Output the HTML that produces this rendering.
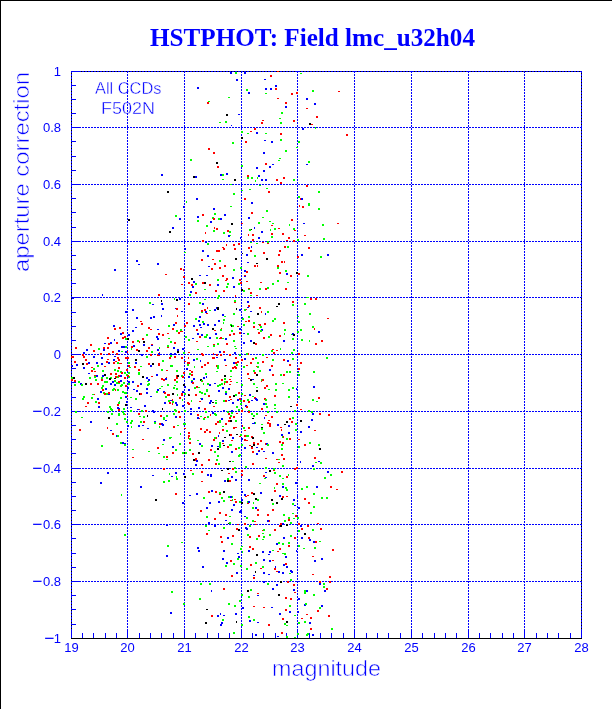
<!DOCTYPE html>
<html><head><meta charset="utf-8"><title>HSTPHOT: Field lmc_u32h04</title>
<style>html,body{margin:0;padding:0;background:#fff;}body{width:612px;height:709px;overflow:hidden;position:relative;}
.bd{position:absolute;left:0;top:0;width:612px;height:709px;border-top:1px solid #000;border-left:1px solid #000;box-sizing:border-box;}
svg{position:absolute;left:0;top:0;display:block;}</style></head>
<body><div class="bd"></div><svg width="612" height="709" viewBox="0 0 612 709" shape-rendering="crispEdges"><rect x="71" y="71" width="510" height="567" fill="none" stroke="#000" stroke-width="1" transform="translate(0.5 0.5)"/><g font-family="Liberation Sans, sans-serif" fill="#0000ff" stroke="#fff" stroke-width="0.4"><text x="95" y="94" font-size="16.4">All CCDs</text><text x="101" y="114" font-size="16.2" textLength="54" lengthAdjust="spacingAndGlyphs">F502N</text></g><path d="M71.5 71V638M127.5 71V638M184.5 71V638M241.5 71V638M297.5 71V638M354.5 71V638M411.5 71V638M468.5 71V638M524.5 71V638M581.5 71V638" stroke="#0000ff" stroke-width="1" stroke-dasharray="2 1" fill="none"/><path d="M71 71.5H582M71 127.5H582M71 184.5H582M71 241.5H582M71 297.5H582M71 354.5H582M71 411.5H582M71 468.5H582M71 524.5H582M71 581.5H582" stroke="#0000ff" stroke-width="1" stroke-dasharray="2 1" stroke-dashoffset="1" fill="none"/><g fill="#0000ff"><rect x="71" y="629" width="1" height="10"/><rect x="82" y="633" width="1" height="6"/><rect x="93" y="633" width="1" height="6"/><rect x="105" y="633" width="1" height="6"/><rect x="116" y="633" width="1" height="6"/><rect x="127" y="629" width="1" height="10"/><rect x="139" y="633" width="1" height="6"/><rect x="150" y="633" width="1" height="6"/><rect x="161" y="633" width="1" height="6"/><rect x="173" y="633" width="1" height="6"/><rect x="184" y="629" width="1" height="10"/><rect x="195" y="633" width="1" height="6"/><rect x="207" y="633" width="1" height="6"/><rect x="218" y="633" width="1" height="6"/><rect x="229" y="633" width="1" height="6"/><rect x="241" y="629" width="1" height="10"/><rect x="252" y="633" width="1" height="6"/><rect x="263" y="633" width="1" height="6"/><rect x="275" y="633" width="1" height="6"/><rect x="286" y="633" width="1" height="6"/><rect x="297" y="629" width="1" height="10"/><rect x="309" y="633" width="1" height="6"/><rect x="320" y="633" width="1" height="6"/><rect x="331" y="633" width="1" height="6"/><rect x="343" y="633" width="1" height="6"/><rect x="354" y="629" width="1" height="10"/><rect x="366" y="633" width="1" height="6"/><rect x="377" y="633" width="1" height="6"/><rect x="388" y="633" width="1" height="6"/><rect x="400" y="633" width="1" height="6"/><rect x="411" y="629" width="1" height="10"/><rect x="422" y="633" width="1" height="6"/><rect x="434" y="633" width="1" height="6"/><rect x="445" y="633" width="1" height="6"/><rect x="456" y="633" width="1" height="6"/><rect x="468" y="629" width="1" height="10"/><rect x="479" y="633" width="1" height="6"/><rect x="490" y="633" width="1" height="6"/><rect x="502" y="633" width="1" height="6"/><rect x="513" y="633" width="1" height="6"/><rect x="524" y="629" width="1" height="10"/><rect x="536" y="633" width="1" height="6"/><rect x="547" y="633" width="1" height="6"/><rect x="558" y="633" width="1" height="6"/><rect x="570" y="633" width="1" height="6"/><rect x="581" y="629" width="1" height="10"/><rect x="71" y="71" width="10" height="1"/><rect x="71" y="85" width="5" height="1"/><rect x="71" y="99" width="5" height="1"/><rect x="71" y="113" width="5" height="1"/><rect x="71" y="127" width="10" height="1"/><rect x="71" y="141" width="5" height="1"/><rect x="71" y="156" width="5" height="1"/><rect x="71" y="170" width="5" height="1"/><rect x="71" y="184" width="10" height="1"/><rect x="71" y="198" width="5" height="1"/><rect x="71" y="212" width="5" height="1"/><rect x="71" y="227" width="5" height="1"/><rect x="71" y="241" width="10" height="1"/><rect x="71" y="255" width="5" height="1"/><rect x="71" y="269" width="5" height="1"/><rect x="71" y="283" width="5" height="1"/><rect x="71" y="297" width="10" height="1"/><rect x="71" y="312" width="5" height="1"/><rect x="71" y="326" width="5" height="1"/><rect x="71" y="340" width="5" height="1"/><rect x="71" y="354" width="10" height="1"/><rect x="71" y="368" width="5" height="1"/><rect x="71" y="382" width="5" height="1"/><rect x="71" y="397" width="5" height="1"/><rect x="71" y="411" width="10" height="1"/><rect x="71" y="425" width="5" height="1"/><rect x="71" y="439" width="5" height="1"/><rect x="71" y="453" width="5" height="1"/><rect x="71" y="468" width="10" height="1"/><rect x="71" y="482" width="5" height="1"/><rect x="71" y="496" width="5" height="1"/><rect x="71" y="510" width="5" height="1"/><rect x="71" y="524" width="10" height="1"/><rect x="71" y="538" width="5" height="1"/><rect x="71" y="553" width="5" height="1"/><rect x="71" y="567" width="5" height="1"/><rect x="71" y="581" width="10" height="1"/><rect x="71" y="595" width="5" height="1"/><rect x="71" y="609" width="5" height="1"/><rect x="71" y="624" width="5" height="1"/><rect x="71" y="638" width="10" height="1"/></g><rect x="71" y="638" width="511" height="1" fill="#000"/><g><rect x="230" y="72" width="2" height="2" fill="#0000ff"/><rect x="235" y="72" width="2" height="2" fill="#00ff00"/><rect x="236" y="79" width="2" height="2" fill="#0000ff"/><rect x="197" y="87" width="2" height="2" fill="#0000ff"/><rect x="228" y="97" width="2" height="1" fill="#00ff00"/><rect x="208" y="101" width="2" height="1" fill="#00ff00"/><rect x="207" y="102" width="2" height="2" fill="#ff0000"/><rect x="226" y="114" width="2" height="2" fill="#000000"/><rect x="238" y="114" width="2" height="1" fill="#0000ff"/><rect x="225" y="121" width="2" height="2" fill="#00ff00"/><rect x="219" y="122" width="2" height="1" fill="#00ff00"/><rect x="244" y="72" width="2" height="2" fill="#0000ff"/><rect x="277" y="71" width="2" height="1" fill="#ff0000"/><rect x="270" y="75" width="2" height="2" fill="#ff0000"/><rect x="264" y="79" width="2" height="1" fill="#0000ff"/><rect x="275" y="85" width="2" height="2" fill="#0000ff"/><rect x="265" y="88" width="2" height="2" fill="#0000ff"/><rect x="270" y="88" width="2" height="2" fill="#0000ff"/><rect x="275" y="88" width="2" height="2" fill="#ff0000"/><rect x="246" y="89" width="2" height="2" fill="#00ff00"/><rect x="248" y="92" width="2" height="2" fill="#0000ff"/><rect x="265" y="93" width="2" height="1" fill="#00ff00"/><rect x="291" y="93" width="2" height="2" fill="#ff0000"/><rect x="296" y="92" width="2" height="2" fill="#ff0000"/><rect x="277" y="98" width="2" height="1" fill="#ff0000"/><rect x="285" y="102" width="2" height="2" fill="#ff0000"/><rect x="285" y="106" width="2" height="2" fill="#0000ff"/><rect x="281" y="112" width="2" height="2" fill="#00ff00"/><rect x="279" y="118" width="2" height="1" fill="#00ff00"/><rect x="262" y="120" width="2" height="1" fill="#ff0000"/><rect x="261" y="122" width="2" height="2" fill="#ff0000"/><rect x="280" y="122" width="2" height="2" fill="#00ff00"/><rect x="293" y="120" width="2" height="2" fill="#ff0000"/><rect x="254" y="128" width="2" height="2" fill="#ff0000"/><rect x="300" y="73" width="2" height="1" fill="#00ff00"/><rect x="312" y="90" width="2" height="2" fill="#00ff00"/><rect x="338" y="91" width="2" height="1" fill="#ff0000"/><rect x="306" y="98" width="2" height="2" fill="#0000ff"/><rect x="314" y="103" width="2" height="2" fill="#0000ff"/><rect x="306" y="108" width="2" height="1" fill="#ff0000"/><rect x="316" y="116" width="2" height="2" fill="#ff0000"/><rect x="309" y="123" width="2" height="2" fill="#000000"/><rect x="311" y="124" width="2" height="1" fill="#ff0000"/><rect x="315" y="127" width="1" height="2" fill="#00ff00"/><rect x="302" y="128" width="2" height="2" fill="#0000ff"/><rect x="161" y="174" width="2" height="2" fill="#0000ff"/><rect x="241" y="131" width="2" height="2" fill="#00ff00"/><rect x="241" y="137" width="2" height="2" fill="#000000"/><rect x="232" y="142" width="2" height="2" fill="#00ff00"/><rect x="208" y="148" width="2" height="2" fill="#ff0000"/><rect x="213" y="152" width="2" height="2" fill="#ff0000"/><rect x="190" y="159" width="2" height="2" fill="#00ff00"/><rect x="216" y="162" width="2" height="2" fill="#000000"/><rect x="217" y="166" width="2" height="2" fill="#ff0000"/><rect x="241" y="165" width="2" height="2" fill="#00ff00"/><rect x="220" y="174" width="2" height="2" fill="#0000ff"/><rect x="222" y="174" width="2" height="2" fill="#00ff00"/><rect x="226" y="173" width="2" height="2" fill="#0000ff"/><rect x="193" y="176" width="2" height="2" fill="#000000"/><rect x="195" y="176" width="2" height="2" fill="#0000ff"/><rect x="222" y="179" width="2" height="1" fill="#00ff00"/><rect x="234" y="179" width="2" height="2" fill="#000000"/><rect x="230" y="184" width="2" height="1" fill="#00ff00"/><rect x="250" y="131" width="2" height="1" fill="#ff0000"/><rect x="247" y="133" width="2" height="1" fill="#00ff00"/><rect x="256" y="132" width="2" height="2" fill="#0000ff"/><rect x="265" y="133" width="2" height="1" fill="#00ff00"/><rect x="280" y="133" width="2" height="2" fill="#ff0000"/><rect x="245" y="141" width="2" height="2" fill="#ff0000"/><rect x="264" y="140" width="2" height="1" fill="#0000ff"/><rect x="271" y="141" width="2" height="2" fill="#0000ff"/><rect x="280" y="139" width="2" height="2" fill="#00ff00"/><rect x="298" y="141" width="2" height="2" fill="#00ff00"/><rect x="296" y="147" width="2" height="1" fill="#00ff00"/><rect x="285" y="150" width="2" height="2" fill="#00ff00"/><rect x="263" y="152" width="2" height="2" fill="#0000ff"/><rect x="279" y="158" width="2" height="1" fill="#00ff00"/><rect x="278" y="160" width="2" height="1" fill="#00ff00"/><rect x="265" y="163" width="2" height="2" fill="#ff0000"/><rect x="272" y="164" width="2" height="1" fill="#0000ff"/><rect x="269" y="166" width="2" height="2" fill="#0000ff"/><rect x="256" y="167" width="2" height="2" fill="#0000ff"/><rect x="263" y="170" width="2" height="2" fill="#0000ff"/><rect x="247" y="175" width="2" height="2" fill="#ff0000"/><rect x="247" y="177" width="2" height="2" fill="#00ff00"/><rect x="258" y="175" width="2" height="2" fill="#0000ff"/><rect x="251" y="177" width="2" height="2" fill="#00ff00"/><rect x="257" y="177" width="1" height="2" fill="#00ff00"/><rect x="255" y="180" width="1" height="2" fill="#00ff00"/><rect x="261" y="179" width="2" height="2" fill="#0000ff"/><rect x="265" y="179" width="2" height="2" fill="#0000ff"/><rect x="276" y="179" width="2" height="2" fill="#ff0000"/><rect x="283" y="177" width="2" height="2" fill="#ff0000"/><rect x="293" y="179" width="2" height="2" fill="#00ff00"/><rect x="280" y="182" width="2" height="2" fill="#ff0000"/><rect x="259" y="185" width="2" height="1" fill="#00ff00"/><rect x="346" y="134" width="2" height="2" fill="#ff0000"/><rect x="308" y="161" width="2" height="2" fill="#00ff00"/><rect x="306" y="164" width="2" height="1" fill="#0000ff"/><rect x="167" y="191" width="2" height="2" fill="#000000"/><rect x="183" y="206" width="1" height="2" fill="#0000ff"/><rect x="175" y="215" width="2" height="2" fill="#00ff00"/><rect x="179" y="218" width="2" height="2" fill="#0000ff"/><rect x="128" y="219" width="2" height="2" fill="#000000"/><rect x="172" y="227" width="2" height="2" fill="#0000ff"/><rect x="169" y="231" width="2" height="2" fill="#000000"/><rect x="241" y="190" width="2" height="1" fill="#00ff00"/><rect x="233" y="193" width="2" height="2" fill="#00ff00"/><rect x="196" y="198" width="2" height="2" fill="#0000ff"/><rect x="186" y="201" width="1" height="2" fill="#00ff00"/><rect x="230" y="206" width="2" height="1" fill="#00ff00"/><rect x="213" y="208" width="2" height="2" fill="#0000ff"/><rect x="202" y="214" width="2" height="2" fill="#ff0000"/><rect x="214" y="213" width="2" height="2" fill="#00ff00"/><rect x="224" y="214" width="2" height="2" fill="#0000ff"/><rect x="197" y="216" width="2" height="2" fill="#0000ff"/><rect x="212" y="217" width="2" height="2" fill="#00ff00"/><rect x="213" y="218" width="2" height="2" fill="#ff0000"/><rect x="218" y="218" width="2" height="2" fill="#00ff00"/><rect x="220" y="218" width="2" height="2" fill="#0000ff"/><rect x="197" y="220" width="2" height="2" fill="#00ff00"/><rect x="210" y="221" width="2" height="2" fill="#0000ff"/><rect x="231" y="223" width="2" height="2" fill="#000000"/><rect x="241" y="223" width="2" height="1" fill="#ff0000"/><rect x="206" y="225" width="2" height="2" fill="#00ff00"/><rect x="214" y="227" width="1" height="2" fill="#ff0000"/><rect x="216" y="228" width="2" height="2" fill="#ff0000"/><rect x="213" y="230" width="2" height="2" fill="#00ff00"/><rect x="227" y="230" width="2" height="2" fill="#ff0000"/><rect x="229" y="231" width="2" height="2" fill="#00ff00"/><rect x="223" y="232" width="2" height="2" fill="#00ff00"/><rect x="205" y="232" width="1" height="2" fill="#ff0000"/><rect x="228" y="235" width="2" height="2" fill="#0000ff"/><rect x="230" y="235" width="1" height="1" fill="#00ff00"/><rect x="240" y="237" width="1" height="2" fill="#0000ff"/><rect x="202" y="240" width="2" height="2" fill="#ff0000"/><rect x="205" y="241" width="2" height="2" fill="#0000ff"/><rect x="249" y="189" width="2" height="1" fill="#00ff00"/><rect x="266" y="188" width="2" height="1" fill="#00ff00"/><rect x="268" y="191" width="2" height="2" fill="#ff0000"/><rect x="244" y="198" width="2" height="2" fill="#ff0000"/><rect x="251" y="202" width="2" height="2" fill="#0000ff"/><rect x="298" y="196" width="2" height="2" fill="#00ff00"/><rect x="299" y="205" width="1" height="2" fill="#ff0000"/><rect x="266" y="210" width="2" height="2" fill="#00ff00"/><rect x="251" y="212" width="2" height="2" fill="#ff0000"/><rect x="248" y="217" width="2" height="2" fill="#0000ff"/><rect x="262" y="217" width="2" height="1" fill="#00ff00"/><rect x="291" y="219" width="2" height="2" fill="#ff0000"/><rect x="258" y="222" width="2" height="2" fill="#00ff00"/><rect x="269" y="221" width="2" height="1" fill="#00ff00"/><rect x="272" y="223" width="2" height="1" fill="#00ff00"/><rect x="271" y="225" width="2" height="1" fill="#ff0000"/><rect x="289" y="224" width="1" height="2" fill="#00ff00"/><rect x="254" y="227" width="1" height="2" fill="#0000ff"/><rect x="249" y="229" width="2" height="2" fill="#00ff00"/><rect x="251" y="229" width="1" height="1" fill="#000000"/><rect x="270" y="229" width="1" height="2" fill="#00ff00"/><rect x="274" y="228" width="2" height="2" fill="#00ff00"/><rect x="278" y="228" width="2" height="1" fill="#ff0000"/><rect x="293" y="228" width="2" height="2" fill="#00ff00"/><rect x="294" y="230" width="2" height="1" fill="#ff0000"/><rect x="261" y="231" width="2" height="2" fill="#0000ff"/><rect x="271" y="233" width="2" height="2" fill="#ff0000"/><rect x="282" y="233" width="2" height="2" fill="#ff0000"/><rect x="248" y="234" width="1" height="2" fill="#ff0000"/><rect x="252" y="234" width="2" height="2" fill="#ff0000"/><rect x="271" y="236" width="2" height="2" fill="#00ff00"/><rect x="258" y="237" width="2" height="2" fill="#0000ff"/><rect x="288" y="237" width="2" height="2" fill="#ff0000"/><rect x="252" y="239" width="2" height="2" fill="#ff0000"/><rect x="286" y="240" width="2" height="1" fill="#ff0000"/><rect x="293" y="240" width="2" height="2" fill="#ff0000"/><rect x="297" y="239" width="2" height="2" fill="#00ff00"/><rect x="250" y="242" width="2" height="1" fill="#00ff00"/><rect x="262" y="242" width="2" height="1" fill="#ff0000"/><rect x="267" y="241" width="2" height="2" fill="#00ff00"/><rect x="306" y="185" width="2" height="2" fill="#ff0000"/><rect x="318" y="191" width="2" height="2" fill="#00ff00"/><rect x="300" y="198" width="1" height="2" fill="#ff0000"/><rect x="301" y="198" width="2" height="2" fill="#0000ff"/><rect x="308" y="203" width="2" height="3" fill="#00ff00"/><rect x="302" y="206" width="2" height="2" fill="#ff0000"/><rect x="318" y="208" width="2" height="2" fill="#00ff00"/><rect x="303" y="223" width="2" height="1" fill="#0000ff"/><rect x="322" y="224" width="2" height="2" fill="#00ff00"/><rect x="337" y="223" width="2" height="1" fill="#ff0000"/><rect x="304" y="235" width="2" height="1" fill="#ff0000"/><rect x="323" y="238" width="2" height="2" fill="#00ff00"/><rect x="114" y="269" width="2" height="2" fill="#0000ff"/><rect x="102" y="294" width="1" height="2" fill="#0000ff"/><rect x="72" y="298" width="2" height="1" fill="#0000ff"/><rect x="136" y="260" width="2" height="2" fill="#0000ff"/><rect x="138" y="264" width="2" height="1" fill="#0000ff"/><rect x="157" y="263" width="2" height="2" fill="#0000ff"/><rect x="180" y="268" width="2" height="2" fill="#ff0000"/><rect x="165" y="274" width="2" height="1" fill="#ff0000"/><rect x="181" y="284" width="2" height="1" fill="#ff0000"/><rect x="158" y="294" width="2" height="2" fill="#ff0000"/><rect x="207" y="243" width="2" height="2" fill="#00ff00"/><rect x="226" y="244" width="1" height="2" fill="#ff0000"/><rect x="233" y="244" width="2" height="2" fill="#ff0000"/><rect x="238" y="243" width="2" height="2" fill="#ff0000"/><rect x="184" y="248" width="2" height="2" fill="#0000ff"/><rect x="184" y="252" width="2" height="1" fill="#00ff00"/><rect x="202" y="250" width="2" height="2" fill="#0000ff"/><rect x="216" y="250" width="4" height="2" fill="#ff0000"/><rect x="222" y="247" width="2" height="1" fill="#ff0000"/><rect x="223" y="248" width="2" height="2" fill="#ff0000"/><rect x="234" y="248" width="2" height="2" fill="#ff0000"/><rect x="207" y="255" width="2" height="2" fill="#0000ff"/><rect x="201" y="259" width="2" height="2" fill="#ff0000"/><rect x="212" y="259" width="2" height="1" fill="#ff0000"/><rect x="219" y="260" width="2" height="2" fill="#00ff00"/><rect x="235" y="258" width="2" height="2" fill="#000000"/><rect x="242" y="253" width="1" height="1" fill="#000000"/><rect x="214" y="263" width="2" height="2" fill="#ff0000"/><rect x="208" y="266" width="2" height="1" fill="#0000ff"/><rect x="224" y="265" width="2" height="2" fill="#ff0000"/><rect x="211" y="268" width="2" height="2" fill="#ff0000"/><rect x="219" y="267" width="2" height="2" fill="#ff0000"/><rect x="233" y="269" width="2" height="2" fill="#00ff00"/><rect x="240" y="267" width="2" height="2" fill="#00ff00"/><rect x="183" y="269" width="1" height="2" fill="#ff0000"/><rect x="183" y="276" width="2" height="2" fill="#ff0000"/><rect x="199" y="275" width="2" height="1" fill="#0000ff"/><rect x="206" y="275" width="2" height="1" fill="#0000ff"/><rect x="222" y="275" width="2" height="2" fill="#ff0000"/><rect x="232" y="277" width="2" height="2" fill="#0000ff"/><rect x="191" y="278" width="2" height="2" fill="#000000"/><rect x="217" y="279" width="2" height="2" fill="#00ff00"/><rect x="226" y="278" width="2" height="2" fill="#ff0000"/><rect x="225" y="280" width="2" height="1" fill="#ff0000"/><rect x="239" y="279" width="2" height="2" fill="#ff0000"/><rect x="240" y="282" width="2" height="2" fill="#ff0000"/><rect x="193" y="281" width="2" height="2" fill="#0000ff"/><rect x="188" y="282" width="2" height="2" fill="#ff0000"/><rect x="202" y="282" width="2" height="2" fill="#ff0000"/><rect x="204" y="282" width="2" height="2" fill="#000000"/><rect x="195" y="283" width="2" height="2" fill="#00ff00"/><rect x="191" y="284" width="2" height="2" fill="#ff0000"/><rect x="192" y="286" width="2" height="2" fill="#0000ff"/><rect x="209" y="284" width="2" height="2" fill="#ff0000"/><rect x="217" y="284" width="2" height="2" fill="#0000ff"/><rect x="227" y="283" width="2" height="2" fill="#00ff00"/><rect x="238" y="283" width="2" height="2" fill="#00ff00"/><rect x="226" y="286" width="2" height="2" fill="#00ff00"/><rect x="233" y="286" width="2" height="2" fill="#0000ff"/><rect x="204" y="289" width="2" height="1" fill="#00ff00"/><rect x="241" y="289" width="2" height="2" fill="#000000"/><rect x="190" y="291" width="2" height="2" fill="#0000ff"/><rect x="195" y="292" width="2" height="2" fill="#ff0000"/><rect x="215" y="290" width="2" height="2" fill="#ff0000"/><rect x="223" y="290" width="2" height="2" fill="#ff0000"/><rect x="189" y="294" width="2" height="2" fill="#00ff00"/><rect x="218" y="295" width="2" height="2" fill="#00ff00"/><rect x="217" y="297" width="2" height="2" fill="#00ff00"/><rect x="235" y="295" width="1" height="2" fill="#ff0000"/><rect x="204" y="299" width="2" height="1" fill="#00ff00"/><rect x="256" y="243" width="2" height="1" fill="#00ff00"/><rect x="267" y="243" width="2" height="1" fill="#ff0000"/><rect x="248" y="247" width="2" height="2" fill="#ff0000"/><rect x="251" y="246" width="1" height="2" fill="#0000ff"/><rect x="284" y="246" width="2" height="2" fill="#ff0000"/><rect x="287" y="246" width="2" height="2" fill="#00ff00"/><rect x="250" y="250" width="2" height="2" fill="#ff0000"/><rect x="246" y="254" width="2" height="2" fill="#0000ff"/><rect x="254" y="255" width="2" height="2" fill="#00ff00"/><rect x="263" y="252" width="2" height="2" fill="#ff0000"/><rect x="279" y="250" width="2" height="2" fill="#ff0000"/><rect x="278" y="254" width="2" height="2" fill="#ff0000"/><rect x="266" y="258" width="2" height="2" fill="#000000"/><rect x="297" y="256" width="2" height="2" fill="#ff0000"/><rect x="247" y="262" width="2" height="1" fill="#0000ff"/><rect x="256" y="263" width="2" height="1" fill="#000000"/><rect x="281" y="261" width="2" height="2" fill="#ff0000"/><rect x="284" y="261" width="1" height="2" fill="#ff0000"/><rect x="254" y="265" width="2" height="2" fill="#ff0000"/><rect x="257" y="265" width="1" height="2" fill="#ff0000"/><rect x="277" y="265" width="2" height="2" fill="#ff0000"/><rect x="277" y="267" width="2" height="2" fill="#00ff00"/><rect x="244" y="270" width="2" height="2" fill="#0000ff"/><rect x="246" y="271" width="2" height="2" fill="#ff0000"/><rect x="279" y="272" width="2" height="2" fill="#ff0000"/><rect x="285" y="270" width="2" height="2" fill="#00ff00"/><rect x="286" y="273" width="2" height="2" fill="#0000ff"/><rect x="296" y="272" width="2" height="2" fill="#000000"/><rect x="298" y="273" width="2" height="2" fill="#ff0000"/><rect x="244" y="275" width="2" height="1" fill="#ff0000"/><rect x="244" y="276" width="2" height="1" fill="#0000ff"/><rect x="290" y="275" width="2" height="2" fill="#ff0000"/><rect x="246" y="281" width="2" height="1" fill="#ff0000"/><rect x="260" y="282" width="2" height="1" fill="#ff0000"/><rect x="277" y="280" width="2" height="2" fill="#00ff00"/><rect x="287" y="282" width="2" height="1" fill="#00ff00"/><rect x="272" y="283" width="2" height="2" fill="#00ff00"/><rect x="243" y="290" width="2" height="2" fill="#00ff00"/><rect x="248" y="288" width="2" height="1" fill="#ff0000"/><rect x="248" y="289" width="2" height="1" fill="#00ff00"/><rect x="259" y="288" width="2" height="2" fill="#00ff00"/><rect x="265" y="288" width="2" height="2" fill="#ff0000"/><rect x="267" y="287" width="2" height="2" fill="#00ff00"/><rect x="285" y="288" width="2" height="2" fill="#ff0000"/><rect x="250" y="292" width="2" height="2" fill="#ff0000"/><rect x="250" y="295" width="2" height="1" fill="#00ff00"/><rect x="256" y="295" width="2" height="1" fill="#ff0000"/><rect x="308" y="247" width="2" height="2" fill="#ff0000"/><rect x="301" y="254" width="2" height="2" fill="#0000ff"/><rect x="320" y="256" width="2" height="2" fill="#00ff00"/><rect x="327" y="254" width="2" height="2" fill="#0000ff"/><rect x="307" y="275" width="2" height="2" fill="#00ff00"/><rect x="306" y="297" width="3" height="1" fill="#00ff00"/><rect x="125" y="311" width="3" height="2" fill="#0000ff"/><rect x="113" y="325" width="2" height="2" fill="#0000ff"/><rect x="114" y="328" width="2" height="2" fill="#ff0000"/><rect x="119" y="327" width="2" height="2" fill="#ff0000"/><rect x="120" y="333" width="2" height="2" fill="#0000ff"/><rect x="122" y="332" width="2" height="2" fill="#ff0000"/><rect x="128" y="334" width="2" height="2" fill="#0000ff"/><rect x="124" y="336" width="2" height="2" fill="#ff0000"/><rect x="122" y="337" width="2" height="2" fill="#ff0000"/><rect x="107" y="337" width="2" height="2" fill="#ff0000"/><rect x="114" y="339" width="1" height="2" fill="#0000ff"/><rect x="125" y="338" width="2" height="2" fill="#00ff00"/><rect x="127" y="338" width="2" height="2" fill="#000000"/><rect x="116" y="342" width="2" height="2" fill="#ff0000"/><rect x="110" y="342" width="2" height="2" fill="#0000ff"/><rect x="108" y="343" width="2" height="2" fill="#ff0000"/><rect x="104" y="343" width="2" height="1" fill="#0000ff"/><rect x="90" y="344" width="2" height="2" fill="#ff0000"/><rect x="75" y="347" width="2" height="2" fill="#ff0000"/><rect x="103" y="347" width="2" height="2" fill="#ff0000"/><rect x="107" y="347" width="2" height="2" fill="#ff0000"/><rect x="103" y="349" width="2" height="2" fill="#0000ff"/><rect x="98" y="348" width="2" height="2" fill="#00ff00"/><rect x="121" y="346" width="2" height="2" fill="#0000ff"/><rect x="123" y="346" width="2" height="2" fill="#0000ff"/><rect x="125" y="346" width="2" height="2" fill="#00ff00"/><rect x="86" y="349" width="2" height="2" fill="#0000ff"/><rect x="93" y="350" width="2" height="2" fill="#ff0000"/><rect x="118" y="350" width="2" height="2" fill="#0000ff"/><rect x="121" y="351" width="2" height="1" fill="#00ff00"/><rect x="125" y="351" width="2" height="2" fill="#0000ff"/><rect x="127" y="351" width="1" height="2" fill="#ff0000"/><rect x="83" y="352" width="2" height="2" fill="#0000ff"/><rect x="82" y="354" width="2" height="2" fill="#ff0000"/><rect x="100" y="353" width="2" height="2" fill="#ff0000"/><rect x="108" y="353" width="2" height="2" fill="#ff0000"/><rect x="112" y="351" width="2" height="2" fill="#ff0000"/><rect x="116" y="353" width="2" height="2" fill="#ff0000"/><rect x="174" y="298" width="1" height="2" fill="#00ff00"/><rect x="176" y="299" width="2" height="2" fill="#000000"/><rect x="179" y="298" width="2" height="2" fill="#0000ff"/><rect x="161" y="300" width="1" height="2" fill="#000000"/><rect x="149" y="302" width="2" height="2" fill="#00ff00"/><rect x="152" y="304" width="2" height="1" fill="#0000ff"/><rect x="161" y="303" width="2" height="2" fill="#0000ff"/><rect x="132" y="309" width="2" height="2" fill="#0000ff"/><rect x="162" y="308" width="2" height="2" fill="#0000ff"/><rect x="175" y="308" width="2" height="1" fill="#0000ff"/><rect x="176" y="308" width="2" height="2" fill="#ff0000"/><rect x="181" y="311" width="2" height="1" fill="#0000ff"/><rect x="136" y="317" width="2" height="2" fill="#0000ff"/><rect x="150" y="317" width="2" height="2" fill="#0000ff"/><rect x="153" y="316" width="2" height="2" fill="#0000ff"/><rect x="161" y="315" width="1" height="2" fill="#0000ff"/><rect x="177" y="315" width="1" height="2" fill="#ff0000"/><rect x="140" y="321" width="2" height="1" fill="#ff0000"/><rect x="141" y="323" width="2" height="2" fill="#ff0000"/><rect x="175" y="322" width="2" height="2" fill="#ff0000"/><rect x="173" y="324" width="2" height="2" fill="#0000ff"/><rect x="168" y="325" width="2" height="2" fill="#00ff00"/><rect x="184" y="325" width="2" height="2" fill="#ff0000"/><rect x="135" y="327" width="2" height="1" fill="#0000ff"/><rect x="148" y="327" width="2" height="2" fill="#ff0000"/><rect x="150" y="329" width="2" height="1" fill="#ff0000"/><rect x="157" y="329" width="2" height="1" fill="#0000ff"/><rect x="172" y="328" width="2" height="2" fill="#ff0000"/><rect x="132" y="330" width="2" height="2" fill="#0000ff"/><rect x="176" y="330" width="2" height="2" fill="#00ff00"/><rect x="180" y="329" width="2" height="2" fill="#00ff00"/><rect x="180" y="331" width="3" height="1" fill="#ff0000"/><rect x="178" y="332" width="2" height="2" fill="#ff0000"/><rect x="158" y="333" width="2" height="2" fill="#ff0000"/><rect x="162" y="334" width="2" height="2" fill="#ff0000"/><rect x="167" y="333" width="2" height="1" fill="#ff0000"/><rect x="146" y="334" width="2" height="2" fill="#00ff00"/><rect x="156" y="336" width="2" height="2" fill="#0000ff"/><rect x="157" y="338" width="2" height="2" fill="#0000ff"/><rect x="168" y="338" width="2" height="1" fill="#00ff00"/><rect x="142" y="338" width="2" height="2" fill="#ff0000"/><rect x="132" y="341" width="2" height="2" fill="#ff0000"/><rect x="137" y="340" width="2" height="2" fill="#00ff00"/><rect x="139" y="341" width="1" height="2" fill="#ff0000"/><rect x="143" y="341" width="2" height="2" fill="#000000"/><rect x="170" y="341" width="2" height="2" fill="#00ff00"/><rect x="174" y="342" width="2" height="2" fill="#ff0000"/><rect x="143" y="344" width="2" height="2" fill="#0000ff"/><rect x="151" y="344" width="2" height="1" fill="#ff0000"/><rect x="151" y="345" width="2" height="1" fill="#0000ff"/><rect x="133" y="345" width="2" height="2" fill="#0000ff"/><rect x="131" y="346" width="2" height="2" fill="#ff0000"/><rect x="131" y="348" width="1" height="2" fill="#00ff00"/><rect x="167" y="345" width="2" height="2" fill="#00ff00"/><rect x="167" y="347" width="2" height="1" fill="#ff0000"/><rect x="173" y="347" width="2" height="2" fill="#0000ff"/><rect x="182" y="348" width="2" height="2" fill="#0000ff"/><rect x="148" y="347" width="2" height="2" fill="#ff0000"/><rect x="159" y="347" width="1" height="2" fill="#00ff00"/><rect x="157" y="349" width="2" height="2" fill="#0000ff"/><rect x="136" y="349" width="2" height="2" fill="#ff0000"/><rect x="138" y="350" width="2" height="2" fill="#000000"/><rect x="146" y="350" width="2" height="2" fill="#ff0000"/><rect x="151" y="351" width="2" height="2" fill="#00ff00"/><rect x="177" y="349" width="2" height="2" fill="#0000ff"/><rect x="177" y="351" width="2" height="2" fill="#000000"/><rect x="183" y="352" width="2" height="2" fill="#00ff00"/><rect x="159" y="352" width="1" height="2" fill="#ff0000"/><rect x="157" y="354" width="3" height="2" fill="#ff0000"/><rect x="158" y="353" width="2" height="2" fill="#0000ff"/><rect x="150" y="354" width="2" height="2" fill="#ff0000"/><rect x="170" y="353" width="2" height="2" fill="#0000ff"/><rect x="174" y="353" width="2" height="2" fill="#0000ff"/><rect x="141" y="354" width="2" height="2" fill="#0000ff"/><rect x="234" y="300" width="2" height="2" fill="#00ff00"/><rect x="234" y="302" width="2" height="1" fill="#ff0000"/><rect x="188" y="303" width="2" height="2" fill="#ff0000"/><rect x="199" y="302" width="2" height="2" fill="#00ff00"/><rect x="202" y="303" width="2" height="2" fill="#0000ff"/><rect x="207" y="307" width="1" height="2" fill="#ff0000"/><rect x="204" y="309" width="2" height="2" fill="#ff0000"/><rect x="201" y="310" width="2" height="2" fill="#ff0000"/><rect x="201" y="312" width="2" height="1" fill="#00ff00"/><rect x="205" y="311" width="2" height="2" fill="#0000ff"/><rect x="206" y="313" width="2" height="1" fill="#ff0000"/><rect x="209" y="310" width="2" height="1" fill="#00ff00"/><rect x="214" y="309" width="2" height="2" fill="#0000ff"/><rect x="216" y="307" width="2" height="2" fill="#0000ff"/><rect x="217" y="307" width="2" height="3" fill="#000000"/><rect x="236" y="308" width="1" height="2" fill="#000000"/><rect x="239" y="309" width="2" height="2" fill="#0000ff"/><rect x="222" y="314" width="2" height="2" fill="#0000ff"/><rect x="224" y="316" width="2" height="1" fill="#00ff00"/><rect x="233" y="313" width="2" height="2" fill="#00ff00"/><rect x="199" y="316" width="2" height="2" fill="#0000ff"/><rect x="195" y="318" width="2" height="2" fill="#00ff00"/><rect x="241" y="317" width="2" height="2" fill="#0000ff"/><rect x="223" y="319" width="2" height="2" fill="#00ff00"/><rect x="223" y="322" width="1" height="2" fill="#00ff00"/><rect x="198" y="320" width="2" height="2" fill="#0000ff"/><rect x="202" y="321" width="2" height="2" fill="#00ff00"/><rect x="218" y="320" width="2" height="2" fill="#0000ff"/><rect x="186" y="322" width="2" height="2" fill="#ff0000"/><rect x="193" y="325" width="2" height="2" fill="#0000ff"/><rect x="199" y="324" width="2" height="2" fill="#0000ff"/><rect x="203" y="323" width="2" height="2" fill="#0000ff"/><rect x="207" y="324" width="2" height="2" fill="#0000ff"/><rect x="214" y="324" width="2" height="2" fill="#0000ff"/><rect x="200" y="327" width="2" height="1" fill="#0000ff"/><rect x="230" y="324" width="2" height="2" fill="#00ff00"/><rect x="231" y="325" width="2" height="2" fill="#000000"/><rect x="232" y="325" width="2" height="2" fill="#00ff00"/><rect x="237" y="326" width="2" height="1" fill="#ff0000"/><rect x="239" y="328" width="2" height="2" fill="#0000ff"/><rect x="212" y="328" width="2" height="2" fill="#000000"/><rect x="214" y="330" width="2" height="1" fill="#ff0000"/><rect x="220" y="329" width="2" height="2" fill="#00ff00"/><rect x="221" y="328" width="1" height="1" fill="#ff0000"/><rect x="231" y="330" width="2" height="2" fill="#00ff00"/><rect x="196" y="329" width="2" height="2" fill="#ff0000"/><rect x="197" y="333" width="2" height="2" fill="#0000ff"/><rect x="201" y="334" width="2" height="2" fill="#0000ff"/><rect x="215" y="333" width="2" height="2" fill="#0000ff"/><rect x="233" y="333" width="2" height="2" fill="#ff0000"/><rect x="229" y="334" width="2" height="2" fill="#ff0000"/><rect x="239" y="332" width="2" height="2" fill="#ff0000"/><rect x="206" y="334" width="2" height="2" fill="#00ff00"/><rect x="204" y="336" width="3" height="2" fill="#00ff00"/><rect x="199" y="336" width="2" height="2" fill="#ff0000"/><rect x="209" y="337" width="2" height="2" fill="#0000ff"/><rect x="216" y="337" width="2" height="2" fill="#00ff00"/><rect x="220" y="337" width="2" height="2" fill="#ff0000"/><rect x="219" y="338" width="2" height="1" fill="#ff0000"/><rect x="222" y="338" width="2" height="1" fill="#00ff00"/><rect x="225" y="338" width="2" height="2" fill="#0000ff"/><rect x="185" y="336" width="2" height="2" fill="#00ff00"/><rect x="192" y="338" width="2" height="1" fill="#0000ff"/><rect x="188" y="339" width="2" height="2" fill="#00ff00"/><rect x="196" y="341" width="2" height="1" fill="#ff0000"/><rect x="233" y="340" width="2" height="2" fill="#00ff00"/><rect x="226" y="343" width="2" height="2" fill="#ff0000"/><rect x="217" y="343" width="2" height="2" fill="#00ff00"/><rect x="213" y="344" width="2" height="1" fill="#ff0000"/><rect x="213" y="345" width="2" height="2" fill="#00ff00"/><rect x="207" y="346" width="2" height="1" fill="#00ff00"/><rect x="234" y="346" width="2" height="1" fill="#00ff00"/><rect x="235" y="348" width="2" height="1" fill="#00ff00"/><rect x="197" y="349" width="2" height="1" fill="#00ff00"/><rect x="188" y="352" width="2" height="1" fill="#ff0000"/><rect x="219" y="351" width="2" height="2" fill="#0000ff"/><rect x="223" y="351" width="2" height="2" fill="#ff0000"/><rect x="234" y="352" width="2" height="2" fill="#0000ff"/><rect x="201" y="353" width="2" height="2" fill="#ff0000"/><rect x="202" y="354" width="2" height="2" fill="#ff0000"/><rect x="213" y="353" width="1" height="2" fill="#ff0000"/><rect x="216" y="354" width="2" height="2" fill="#ff0000"/><rect x="220" y="354" width="2" height="2" fill="#ff0000"/><rect x="229" y="354" width="2" height="2" fill="#ff0000"/><rect x="239" y="354" width="2" height="2" fill="#00ff00"/><rect x="247" y="301" width="2" height="2" fill="#0000ff"/><rect x="248" y="305" width="2" height="2" fill="#ff0000"/><rect x="247" y="307" width="2" height="1" fill="#0000ff"/><rect x="244" y="309" width="2" height="2" fill="#00ff00"/><rect x="246" y="309" width="1" height="1" fill="#ff0000"/><rect x="250" y="311" width="2" height="1" fill="#0000ff"/><rect x="259" y="307" width="2" height="2" fill="#ff0000"/><rect x="261" y="311" width="1" height="2" fill="#ff0000"/><rect x="257" y="313" width="2" height="2" fill="#000000"/><rect x="265" y="313" width="1" height="2" fill="#0000ff"/><rect x="267" y="311" width="2" height="2" fill="#00ff00"/><rect x="278" y="303" width="2" height="2" fill="#000000"/><rect x="276" y="306" width="2" height="1" fill="#000000"/><rect x="292" y="301" width="2" height="2" fill="#ff0000"/><rect x="292" y="304" width="2" height="2" fill="#00ff00"/><rect x="248" y="316" width="2" height="2" fill="#00ff00"/><rect x="242" y="318" width="2" height="2" fill="#00ff00"/><rect x="245" y="321" width="2" height="1" fill="#ff0000"/><rect x="248" y="320" width="2" height="2" fill="#ff0000"/><rect x="253" y="322" width="2" height="2" fill="#00ff00"/><rect x="274" y="318" width="2" height="2" fill="#00ff00"/><rect x="272" y="320" width="2" height="2" fill="#00ff00"/><rect x="283" y="322" width="2" height="2" fill="#ff0000"/><rect x="297" y="316" width="2" height="1" fill="#00ff00"/><rect x="298" y="321" width="2" height="2" fill="#00ff00"/><rect x="243" y="324" width="2" height="2" fill="#00ff00"/><rect x="258" y="324" width="2" height="1" fill="#00ff00"/><rect x="259" y="324" width="2" height="2" fill="#ff0000"/><rect x="253" y="326" width="2" height="2" fill="#ff0000"/><rect x="260" y="326" width="2" height="2" fill="#00ff00"/><rect x="264" y="323" width="2" height="2" fill="#ff0000"/><rect x="257" y="329" width="2" height="1" fill="#00ff00"/><rect x="261" y="329" width="2" height="2" fill="#0000ff"/><rect x="260" y="330" width="2" height="2" fill="#00ff00"/><rect x="284" y="329" width="2" height="2" fill="#00ff00"/><rect x="243" y="333" width="2" height="1" fill="#0000ff"/><rect x="247" y="333" width="2" height="2" fill="#00ff00"/><rect x="258" y="332" width="2" height="2" fill="#ff0000"/><rect x="270" y="334" width="2" height="2" fill="#ff0000"/><rect x="268" y="336" width="2" height="2" fill="#00ff00"/><rect x="263" y="337" width="2" height="2" fill="#ff0000"/><rect x="279" y="335" width="2" height="2" fill="#ff0000"/><rect x="284" y="333" width="1" height="2" fill="#00ff00"/><rect x="297" y="331" width="2" height="2" fill="#00ff00"/><rect x="292" y="333" width="2" height="2" fill="#0000ff"/><rect x="293" y="334" width="2" height="2" fill="#000000"/><rect x="291" y="334" width="1" height="1" fill="#00ff00"/><rect x="292" y="338" width="2" height="2" fill="#00ff00"/><rect x="283" y="340" width="2" height="2" fill="#0000ff"/><rect x="250" y="340" width="2" height="2" fill="#0000ff"/><rect x="243" y="342" width="2" height="2" fill="#0000ff"/><rect x="253" y="342" width="2" height="2" fill="#000000"/><rect x="255" y="343" width="2" height="2" fill="#ff0000"/><rect x="280" y="348" width="1" height="2" fill="#00ff00"/><rect x="272" y="349" width="2" height="1" fill="#ff0000"/><rect x="271" y="350" width="2" height="2" fill="#00ff00"/><rect x="276" y="350" width="2" height="1" fill="#ff0000"/><rect x="273" y="352" width="2" height="2" fill="#ff0000"/><rect x="293" y="349" width="2" height="2" fill="#00ff00"/><rect x="291" y="352" width="2" height="2" fill="#00ff00"/><rect x="246" y="353" width="2" height="2" fill="#00ff00"/><rect x="248" y="353" width="1" height="2" fill="#ff0000"/><rect x="262" y="354" width="2" height="2" fill="#00ff00"/><rect x="298" y="353" width="2" height="2" fill="#ff0000"/><rect x="310" y="298" width="2" height="2" fill="#ff0000"/><rect x="315" y="298" width="2" height="2" fill="#ff0000"/><rect x="304" y="303" width="2" height="2" fill="#00ff00"/><rect x="309" y="313" width="2" height="2" fill="#00ff00"/><rect x="327" y="318" width="2" height="1" fill="#ff0000"/><rect x="312" y="326" width="2" height="2" fill="#00ff00"/><rect x="314" y="328" width="1" height="2" fill="#ff0000"/><rect x="300" y="329" width="2" height="2" fill="#00ff00"/><rect x="318" y="331" width="2" height="2" fill="#0000ff"/><rect x="301" y="339" width="2" height="2" fill="#00ff00"/><rect x="309" y="340" width="1" height="2" fill="#00ff00"/><rect x="321" y="340" width="2" height="2" fill="#ff0000"/><rect x="315" y="343" width="2" height="2" fill="#ff0000"/><rect x="71" y="356" width="3" height="2" fill="#ff0000"/><rect x="83" y="356" width="2" height="2" fill="#ff0000"/><rect x="93" y="356" width="2" height="2" fill="#0000ff"/><rect x="101" y="357" width="2" height="2" fill="#0000ff"/><rect x="114" y="356" width="2" height="1" fill="#0000ff"/><rect x="117" y="357" width="2" height="2" fill="#ff0000"/><rect x="118" y="359" width="2" height="2" fill="#ff0000"/><rect x="125" y="357" width="4" height="2" fill="#ff0000"/><rect x="85" y="359" width="2" height="2" fill="#ff0000"/><rect x="107" y="359" width="2" height="1" fill="#ff0000"/><rect x="113" y="359" width="2" height="2" fill="#0000ff"/><rect x="74" y="361" width="2" height="2" fill="#ff0000"/><rect x="82" y="363" width="2" height="2" fill="#000000"/><rect x="86" y="363" width="2" height="2" fill="#ff0000"/><rect x="88" y="362" width="2" height="2" fill="#0000ff"/><rect x="96" y="362" width="2" height="2" fill="#0000ff"/><rect x="101" y="363" width="2" height="2" fill="#0000ff"/><rect x="106" y="361" width="2" height="2" fill="#ff0000"/><rect x="108" y="362" width="2" height="2" fill="#0000ff"/><rect x="113" y="362" width="2" height="2" fill="#ff0000"/><rect x="115" y="361" width="2" height="1" fill="#ff0000"/><rect x="117" y="362" width="2" height="2" fill="#00ff00"/><rect x="119" y="363" width="3" height="1" fill="#ff0000"/><rect x="128" y="362" width="2" height="2" fill="#00ff00"/><rect x="76" y="364" width="2" height="2" fill="#0000ff"/><rect x="71" y="365" width="2" height="2" fill="#0000ff"/><rect x="128" y="365" width="2" height="2" fill="#ff0000"/><rect x="97" y="365" width="2" height="2" fill="#00ff00"/><rect x="104" y="366" width="2" height="1" fill="#ff0000"/><rect x="83" y="367" width="2" height="2" fill="#0000ff"/><rect x="91" y="367" width="2" height="1" fill="#ff0000"/><rect x="93" y="368" width="2" height="2" fill="#00ff00"/><rect x="91" y="370" width="2" height="2" fill="#ff0000"/><rect x="94" y="371" width="2" height="1" fill="#ff0000"/><rect x="102" y="370" width="2" height="2" fill="#00ff00"/><rect x="114" y="369" width="2" height="2" fill="#00ff00"/><rect x="117" y="370" width="2" height="2" fill="#00ff00"/><rect x="118" y="367" width="2" height="2" fill="#ff0000"/><rect x="126" y="369" width="2" height="2" fill="#ff0000"/><rect x="120" y="371" width="2" height="2" fill="#00ff00"/><rect x="124" y="372" width="2" height="2" fill="#00ff00"/><rect x="128" y="372" width="2" height="2" fill="#00ff00"/><rect x="121" y="372" width="2" height="2" fill="#ff0000"/><rect x="88" y="373" width="2" height="1" fill="#0000ff"/><rect x="110" y="373" width="2" height="2" fill="#ff0000"/><rect x="115" y="373" width="2" height="2" fill="#ff0000"/><rect x="126" y="374" width="2" height="2" fill="#00ff00"/><rect x="104" y="374" width="2" height="2" fill="#000000"/><rect x="102" y="375" width="2" height="2" fill="#0000ff"/><rect x="94" y="375" width="2" height="2" fill="#ff0000"/><rect x="94" y="376" width="2" height="2" fill="#00ff00"/><rect x="96" y="375" width="2" height="2" fill="#0000ff"/><rect x="89" y="377" width="2" height="2" fill="#00ff00"/><rect x="106" y="377" width="2" height="2" fill="#00ff00"/><rect x="110" y="377" width="2" height="2" fill="#00ff00"/><rect x="115" y="376" width="2" height="2" fill="#ff0000"/><rect x="117" y="376" width="2" height="2" fill="#00ff00"/><rect x="118" y="375" width="2" height="2" fill="#ff0000"/><rect x="120" y="375" width="2" height="2" fill="#0000ff"/><rect x="124" y="377" width="2" height="2" fill="#ff0000"/><rect x="128" y="376" width="2" height="2" fill="#00ff00"/><rect x="73" y="377" width="2" height="2" fill="#000000"/><rect x="71" y="377" width="2" height="2" fill="#00ff00"/><rect x="71" y="379" width="2" height="2" fill="#ff0000"/><rect x="74" y="380" width="2" height="2" fill="#ff0000"/><rect x="101" y="377" width="2" height="2" fill="#00ff00"/><rect x="101" y="379" width="2" height="2" fill="#ff0000"/><rect x="95" y="379" width="2" height="2" fill="#00ff00"/><rect x="109" y="378" width="2" height="2" fill="#000000"/><rect x="114" y="378" width="2" height="1" fill="#000000"/><rect x="112" y="381" width="2" height="2" fill="#0000ff"/><rect x="78" y="381" width="2" height="2" fill="#00ff00"/><rect x="80" y="383" width="2" height="2" fill="#0000ff"/><rect x="81" y="384" width="2" height="2" fill="#00ff00"/><rect x="85" y="383" width="2" height="2" fill="#000000"/><rect x="90" y="383" width="2" height="2" fill="#ff0000"/><rect x="97" y="383" width="2" height="2" fill="#ff0000"/><rect x="104" y="381" width="2" height="2" fill="#00ff00"/><rect x="106" y="381" width="2" height="2" fill="#00ff00"/><rect x="110" y="383" width="2" height="2" fill="#0000ff"/><rect x="114" y="380" width="2" height="2" fill="#00ff00"/><rect x="116" y="382" width="2" height="2" fill="#00ff00"/><rect x="114" y="384" width="2" height="2" fill="#0000ff"/><rect x="118" y="382" width="2" height="2" fill="#00ff00"/><rect x="118" y="381" width="2" height="2" fill="#ff0000"/><rect x="120" y="380" width="2" height="2" fill="#0000ff"/><rect x="123" y="382" width="2" height="2" fill="#00ff00"/><rect x="128" y="381" width="2" height="2" fill="#0000ff"/><rect x="128" y="383" width="2" height="2" fill="#00ff00"/><rect x="74" y="384" width="2" height="2" fill="#00ff00"/><rect x="120" y="385" width="2" height="2" fill="#00ff00"/><rect x="121" y="384" width="2" height="2" fill="#00ff00"/><rect x="102" y="385" width="2" height="2" fill="#00ff00"/><rect x="101" y="387" width="2" height="2" fill="#00ff00"/><rect x="105" y="388" width="2" height="2" fill="#0000ff"/><rect x="102" y="389" width="2" height="2" fill="#ff0000"/><rect x="113" y="388" width="2" height="2" fill="#00ff00"/><rect x="112" y="389" width="2" height="2" fill="#00ff00"/><rect x="115" y="389" width="1" height="2" fill="#ff0000"/><rect x="117" y="389" width="2" height="2" fill="#00ff00"/><rect x="125" y="385" width="2" height="2" fill="#ff0000"/><rect x="127" y="387" width="2" height="2" fill="#0000ff"/><rect x="100" y="391" width="2" height="2" fill="#0000ff"/><rect x="103" y="392" width="2" height="2" fill="#00ff00"/><rect x="104" y="393" width="2" height="2" fill="#ff0000"/><rect x="106" y="393" width="2" height="2" fill="#00ff00"/><rect x="108" y="393" width="2" height="2" fill="#0000ff"/><rect x="108" y="392" width="2" height="2" fill="#ff0000"/><rect x="122" y="391" width="2" height="2" fill="#00ff00"/><rect x="124" y="392" width="2" height="2" fill="#00ff00"/><rect x="125" y="392" width="2" height="2" fill="#00ff00"/><rect x="92" y="394" width="2" height="1" fill="#00ff00"/><rect x="94" y="394" width="1" height="1" fill="#ff0000"/><rect x="127" y="395" width="1" height="2" fill="#ff0000"/><rect x="83" y="396" width="2" height="2" fill="#00ff00"/><rect x="82" y="398" width="2" height="2" fill="#00ff00"/><rect x="91" y="397" width="2" height="2" fill="#00ff00"/><rect x="97" y="398" width="2" height="2" fill="#0000ff"/><rect x="120" y="397" width="2" height="2" fill="#00ff00"/><rect x="125" y="396" width="2" height="2" fill="#0000ff"/><rect x="95" y="401" width="2" height="2" fill="#00ff00"/><rect x="87" y="402" width="2" height="2" fill="#ff0000"/><rect x="98" y="402" width="2" height="2" fill="#ff0000"/><rect x="119" y="401" width="1" height="2" fill="#00ff00"/><rect x="118" y="402" width="2" height="2" fill="#00ff00"/><rect x="117" y="404" width="2" height="2" fill="#ff0000"/><rect x="125" y="404" width="2" height="2" fill="#000000"/><rect x="126" y="401" width="1" height="2" fill="#0000ff"/><rect x="85" y="406" width="2" height="1" fill="#ff0000"/><rect x="98" y="406" width="2" height="2" fill="#0000ff"/><rect x="109" y="406" width="2" height="2" fill="#00ff00"/><rect x="110" y="408" width="2" height="2" fill="#00ff00"/><rect x="111" y="409" width="2" height="2" fill="#00ff00"/><rect x="117" y="407" width="2" height="2" fill="#0000ff"/><rect x="118" y="408" width="2" height="2" fill="#0000ff"/><rect x="118" y="409" width="2" height="2" fill="#ff0000"/><rect x="123" y="408" width="2" height="2" fill="#00ff00"/><rect x="75" y="411" width="2" height="2" fill="#00ff00"/><rect x="107" y="411" width="2" height="2" fill="#00ff00"/><rect x="146" y="356" width="2" height="2" fill="#00ff00"/><rect x="170" y="355" width="2" height="2" fill="#00ff00"/><rect x="169" y="357" width="2" height="2" fill="#ff0000"/><rect x="174" y="356" width="2" height="2" fill="#ff0000"/><rect x="181" y="357" width="2" height="2" fill="#ff0000"/><rect x="184" y="361" width="2" height="1" fill="#ff0000"/><rect x="135" y="359" width="2" height="2" fill="#000000"/><rect x="135" y="362" width="2" height="2" fill="#0000ff"/><rect x="129" y="367" width="2" height="1" fill="#00ff00"/><rect x="134" y="366" width="2" height="2" fill="#ff0000"/><rect x="140" y="366" width="2" height="1" fill="#00ff00"/><rect x="148" y="363" width="2" height="2" fill="#ff0000"/><rect x="152" y="363" width="2" height="2" fill="#000000"/><rect x="150" y="365" width="2" height="2" fill="#0000ff"/><rect x="158" y="363" width="2" height="2" fill="#ff0000"/><rect x="158" y="364" width="2" height="2" fill="#ff0000"/><rect x="162" y="360" width="2" height="2" fill="#00ff00"/><rect x="170" y="365" width="3" height="2" fill="#00ff00"/><rect x="138" y="369" width="2" height="2" fill="#ff0000"/><rect x="138" y="372" width="2" height="3" fill="#00ff00"/><rect x="161" y="369" width="2" height="2" fill="#00ff00"/><rect x="166" y="370" width="2" height="1" fill="#ff0000"/><rect x="176" y="370" width="2" height="2" fill="#00ff00"/><rect x="183" y="372" width="2" height="2" fill="#ff0000"/><rect x="127" y="375" width="2" height="2" fill="#ff0000"/><rect x="142" y="376" width="2" height="2" fill="#000000"/><rect x="151" y="376" width="2" height="1" fill="#ff0000"/><rect x="156" y="374" width="2" height="2" fill="#0000ff"/><rect x="146" y="377" width="2" height="2" fill="#0000ff"/><rect x="148" y="379" width="2" height="2" fill="#0000ff"/><rect x="161" y="378" width="2" height="2" fill="#ff0000"/><rect x="163" y="379" width="2" height="2" fill="#ff0000"/><rect x="165" y="378" width="2" height="2" fill="#0000ff"/><rect x="166" y="377" width="1" height="1" fill="#ff0000"/><rect x="176" y="375" width="2" height="2" fill="#ff0000"/><rect x="176" y="377" width="2" height="2" fill="#ff0000"/><rect x="177" y="375" width="2" height="2" fill="#000000"/><rect x="181" y="375" width="2" height="2" fill="#00ff00"/><rect x="182" y="376" width="2" height="2" fill="#ff0000"/><rect x="174" y="379" width="2" height="2" fill="#ff0000"/><rect x="132" y="381" width="2" height="2" fill="#0000ff"/><rect x="140" y="383" width="2" height="2" fill="#0000ff"/><rect x="147" y="381" width="2" height="1" fill="#00ff00"/><rect x="148" y="383" width="2" height="2" fill="#00ff00"/><rect x="147" y="384" width="2" height="2" fill="#00ff00"/><rect x="137" y="385" width="2" height="2" fill="#ff0000"/><rect x="167" y="384" width="2" height="2" fill="#00ff00"/><rect x="174" y="385" width="2" height="1" fill="#00ff00"/><rect x="176" y="381" width="2" height="2" fill="#00ff00"/><rect x="183" y="384" width="2" height="2" fill="#000000"/><rect x="184" y="386" width="2" height="2" fill="#0000ff"/><rect x="161" y="386" width="2" height="1" fill="#00ff00"/><rect x="159" y="388" width="2" height="1" fill="#00ff00"/><rect x="173" y="387" width="2" height="2" fill="#00ff00"/><rect x="176" y="388" width="2" height="2" fill="#00ff00"/><rect x="133" y="389" width="2" height="1" fill="#0000ff"/><rect x="136" y="390" width="2" height="2" fill="#0000ff"/><rect x="146" y="388" width="2" height="2" fill="#0000ff"/><rect x="157" y="389" width="2" height="2" fill="#0000ff"/><rect x="156" y="391" width="2" height="2" fill="#00ff00"/><rect x="163" y="391" width="2" height="2" fill="#0000ff"/><rect x="164" y="392" width="2" height="2" fill="#ff0000"/><rect x="182" y="391" width="2" height="2" fill="#0000ff"/><rect x="181" y="393" width="2" height="3" fill="#ff0000"/><rect x="184" y="393" width="2" height="2" fill="#00ff00"/><rect x="139" y="393" width="2" height="2" fill="#000000"/><rect x="140" y="393" width="2" height="2" fill="#ff0000"/><rect x="146" y="392" width="2" height="2" fill="#0000ff"/><rect x="172" y="393" width="2" height="2" fill="#000000"/><rect x="167" y="394" width="3" height="2" fill="#ff0000"/><rect x="177" y="394" width="1" height="2" fill="#00ff00"/><rect x="150" y="396" width="2" height="1" fill="#0000ff"/><rect x="130" y="397" width="2" height="1" fill="#00ff00"/><rect x="135" y="398" width="2" height="2" fill="#00ff00"/><rect x="165" y="396" width="2" height="2" fill="#00ff00"/><rect x="179" y="397" width="2" height="2" fill="#ff0000"/><rect x="182" y="399" width="1" height="2" fill="#00ff00"/><rect x="172" y="399" width="1" height="2" fill="#ff0000"/><rect x="170" y="400" width="2" height="1" fill="#0000ff"/><rect x="168" y="400" width="2" height="2" fill="#00ff00"/><rect x="172" y="401" width="2" height="2" fill="#00ff00"/><rect x="164" y="402" width="2" height="2" fill="#0000ff"/><rect x="169" y="402" width="2" height="2" fill="#ff0000"/><rect x="172" y="403" width="1" height="2" fill="#ff0000"/><rect x="175" y="402" width="2" height="2" fill="#0000ff"/><rect x="176" y="404" width="2" height="2" fill="#0000ff"/><rect x="182" y="405" width="2" height="2" fill="#0000ff"/><rect x="144" y="405" width="2" height="2" fill="#0000ff"/><rect x="130" y="407" width="2" height="1" fill="#0000ff"/><rect x="162" y="408" width="1" height="2" fill="#000000"/><rect x="137" y="409" width="2" height="1" fill="#0000ff"/><rect x="139" y="409" width="1" height="1" fill="#ff0000"/><rect x="130" y="410" width="2" height="2" fill="#00ff00"/><rect x="145" y="410" width="2" height="2" fill="#ff0000"/><rect x="141" y="410" width="2" height="2" fill="#00ff00"/><rect x="152" y="410" width="2" height="2" fill="#0000ff"/><rect x="153" y="411" width="2" height="2" fill="#0000ff"/><rect x="174" y="409" width="2" height="2" fill="#00ff00"/><rect x="175" y="410" width="2" height="2" fill="#00ff00"/><rect x="178" y="411" width="2" height="2" fill="#ff0000"/><rect x="216" y="357" width="2" height="1" fill="#0000ff"/><rect x="235" y="357" width="2" height="2" fill="#ff0000"/><rect x="241" y="359" width="2" height="2" fill="#ff0000"/><rect x="188" y="357" width="1" height="2" fill="#ff0000"/><rect x="193" y="359" width="2" height="2" fill="#0000ff"/><rect x="196" y="358" width="2" height="2" fill="#00ff00"/><rect x="200" y="360" width="1" height="2" fill="#0000ff"/><rect x="212" y="357" width="2" height="2" fill="#ff0000"/><rect x="213" y="357" width="2" height="2" fill="#ff0000"/><rect x="224" y="359" width="2" height="2" fill="#0000ff"/><rect x="187" y="362" width="3" height="2" fill="#ff0000"/><rect x="187" y="364" width="2" height="2" fill="#00ff00"/><rect x="207" y="362" width="2" height="2" fill="#ff0000"/><rect x="204" y="364" width="2" height="2" fill="#ff0000"/><rect x="201" y="366" width="2" height="2" fill="#ff0000"/><rect x="194" y="366" width="1" height="2" fill="#00ff00"/><rect x="216" y="365" width="2" height="2" fill="#ff0000"/><rect x="217" y="365" width="2" height="2" fill="#00ff00"/><rect x="217" y="367" width="2" height="2" fill="#00ff00"/><rect x="225" y="365" width="2" height="1" fill="#ff0000"/><rect x="233" y="362" width="2" height="2" fill="#0000ff"/><rect x="235" y="362" width="2" height="2" fill="#ff0000"/><rect x="237" y="361" width="2" height="2" fill="#ff0000"/><rect x="236" y="364" width="2" height="2" fill="#00ff00"/><rect x="232" y="367" width="2" height="2" fill="#ff0000"/><rect x="234" y="366" width="2" height="2" fill="#ff0000"/><rect x="235" y="367" width="2" height="2" fill="#ff0000"/><rect x="186" y="368" width="2" height="2" fill="#0000ff"/><rect x="189" y="370" width="2" height="1" fill="#ff0000"/><rect x="191" y="371" width="2" height="2" fill="#ff0000"/><rect x="216" y="371" width="2" height="1" fill="#00ff00"/><rect x="230" y="370" width="2" height="2" fill="#00ff00"/><rect x="189" y="373" width="2" height="2" fill="#00ff00"/><rect x="191" y="374" width="2" height="2" fill="#ff0000"/><rect x="205" y="373" width="2" height="2" fill="#00ff00"/><rect x="188" y="376" width="2" height="2" fill="#0000ff"/><rect x="206" y="376" width="1" height="2" fill="#0000ff"/><rect x="203" y="377" width="2" height="2" fill="#0000ff"/><rect x="224" y="375" width="2" height="2" fill="#000000"/><rect x="230" y="376" width="2" height="1" fill="#00ff00"/><rect x="200" y="379" width="2" height="2" fill="#000000"/><rect x="193" y="378" width="2" height="2" fill="#0000ff"/><rect x="191" y="380" width="2" height="1" fill="#00ff00"/><rect x="191" y="381" width="2" height="2" fill="#0000ff"/><rect x="201" y="380" width="2" height="2" fill="#00ff00"/><rect x="202" y="381" width="1" height="1" fill="#ff0000"/><rect x="192" y="382" width="2" height="2" fill="#ff0000"/><rect x="203" y="383" width="1" height="2" fill="#00ff00"/><rect x="221" y="379" width="2" height="2" fill="#ff0000"/><rect x="224" y="378" width="2" height="2" fill="#00ff00"/><rect x="229" y="379" width="2" height="1" fill="#ff0000"/><rect x="230" y="381" width="2" height="1" fill="#ff0000"/><rect x="224" y="381" width="2" height="2" fill="#00ff00"/><rect x="226" y="381" width="2" height="2" fill="#ff0000"/><rect x="236" y="382" width="2" height="1" fill="#00ff00"/><rect x="207" y="383" width="2" height="2" fill="#00ff00"/><rect x="209" y="384" width="2" height="2" fill="#0000ff"/><rect x="214" y="383" width="2" height="1" fill="#0000ff"/><rect x="217" y="385" width="2" height="2" fill="#00ff00"/><rect x="219" y="384" width="2" height="2" fill="#00ff00"/><rect x="221" y="383" width="2" height="2" fill="#00ff00"/><rect x="224" y="383" width="1" height="2" fill="#ff0000"/><rect x="229" y="384" width="2" height="1" fill="#ff0000"/><rect x="241" y="384" width="2" height="2" fill="#00ff00"/><rect x="196" y="386" width="2" height="2" fill="#ff0000"/><rect x="194" y="387" width="2" height="2" fill="#00ff00"/><rect x="198" y="387" width="2" height="1" fill="#00ff00"/><rect x="222" y="387" width="2" height="2" fill="#0000ff"/><rect x="228" y="388" width="2" height="2" fill="#0000ff"/><rect x="188" y="389" width="2" height="2" fill="#0000ff"/><rect x="206" y="389" width="2" height="3" fill="#00ff00"/><rect x="218" y="390" width="2" height="2" fill="#0000ff"/><rect x="199" y="391" width="2" height="2" fill="#00ff00"/><rect x="201" y="392" width="2" height="2" fill="#00ff00"/><rect x="204" y="393" width="2" height="2" fill="#00ff00"/><rect x="225" y="391" width="2" height="2" fill="#00ff00"/><rect x="225" y="393" width="2" height="2" fill="#0000ff"/><rect x="238" y="392" width="2" height="2" fill="#ff0000"/><rect x="241" y="393" width="2" height="2" fill="#00ff00"/><rect x="188" y="394" width="2" height="2" fill="#000000"/><rect x="189" y="394" width="1" height="1" fill="#ff0000"/><rect x="195" y="394" width="2" height="2" fill="#ff0000"/><rect x="208" y="395" width="2" height="2" fill="#ff0000"/><rect x="235" y="394" width="2" height="2" fill="#00ff00"/><rect x="233" y="395" width="2" height="2" fill="#000000"/><rect x="229" y="396" width="2" height="2" fill="#ff0000"/><rect x="230" y="399" width="2" height="1" fill="#ff0000"/><rect x="191" y="400" width="1" height="2" fill="#00ff00"/><rect x="201" y="398" width="2" height="2" fill="#0000ff"/><rect x="200" y="398" width="1" height="1" fill="#00ff00"/><rect x="199" y="401" width="2" height="1" fill="#ff0000"/><rect x="210" y="400" width="2" height="2" fill="#0000ff"/><rect x="209" y="402" width="2" height="2" fill="#0000ff"/><rect x="212" y="402" width="2" height="1" fill="#000000"/><rect x="215" y="400" width="2" height="1" fill="#00ff00"/><rect x="215" y="402" width="2" height="2" fill="#00ff00"/><rect x="223" y="400" width="2" height="2" fill="#00ff00"/><rect x="225" y="400" width="2" height="2" fill="#ff0000"/><rect x="228" y="400" width="2" height="1" fill="#0000ff"/><rect x="239" y="398" width="2" height="2" fill="#ff0000"/><rect x="237" y="399" width="2" height="2" fill="#0000ff"/><rect x="240" y="400" width="2" height="2" fill="#00ff00"/><rect x="232" y="402" width="2" height="2" fill="#0000ff"/><rect x="187" y="402" width="2" height="2" fill="#ff0000"/><rect x="188" y="403" width="2" height="2" fill="#ff0000"/><rect x="240" y="403" width="2" height="2" fill="#00ff00"/><rect x="213" y="406" width="2" height="1" fill="#ff0000"/><rect x="198" y="407" width="2" height="2" fill="#0000ff"/><rect x="236" y="406" width="2" height="2" fill="#00ff00"/><rect x="204" y="408" width="2" height="2" fill="#ff0000"/><rect x="190" y="408" width="2" height="2" fill="#0000ff"/><rect x="184" y="410" width="2" height="2" fill="#00ff00"/><rect x="205" y="411" width="2" height="2" fill="#00ff00"/><rect x="223" y="410" width="2" height="2" fill="#0000ff"/><rect x="231" y="410" width="2" height="2" fill="#0000ff"/><rect x="238" y="409" width="2" height="2" fill="#00ff00"/><rect x="241" y="410" width="2" height="2" fill="#ff0000"/><rect x="244" y="358" width="2" height="2" fill="#0000ff"/><rect x="252" y="358" width="2" height="2" fill="#ff0000"/><rect x="255" y="357" width="2" height="2" fill="#00ff00"/><rect x="266" y="357" width="2" height="1" fill="#ff0000"/><rect x="272" y="359" width="2" height="2" fill="#00ff00"/><rect x="283" y="359" width="2" height="2" fill="#ff0000"/><rect x="287" y="360" width="2" height="2" fill="#0000ff"/><rect x="292" y="358" width="2" height="2" fill="#00ff00"/><rect x="250" y="362" width="2" height="2" fill="#ff0000"/><rect x="257" y="362" width="2" height="2" fill="#00ff00"/><rect x="262" y="361" width="2" height="2" fill="#ff0000"/><rect x="246" y="365" width="2" height="1" fill="#ff0000"/><rect x="243" y="366" width="2" height="2" fill="#00ff00"/><rect x="256" y="366" width="1" height="1" fill="#ff0000"/><rect x="257" y="366" width="2" height="2" fill="#00ff00"/><rect x="271" y="365" width="2" height="2" fill="#ff0000"/><rect x="289" y="364" width="2" height="2" fill="#ff0000"/><rect x="269" y="369" width="2" height="2" fill="#0000ff"/><rect x="253" y="370" width="2" height="2" fill="#00ff00"/><rect x="259" y="370" width="2" height="2" fill="#00ff00"/><rect x="254" y="372" width="2" height="2" fill="#ff0000"/><rect x="256" y="374" width="2" height="2" fill="#000000"/><rect x="247" y="373" width="2" height="2" fill="#ff0000"/><rect x="272" y="374" width="2" height="2" fill="#ff0000"/><rect x="280" y="374" width="2" height="2" fill="#00ff00"/><rect x="283" y="374" width="2" height="2" fill="#ff0000"/><rect x="286" y="371" width="2" height="2" fill="#00ff00"/><rect x="289" y="371" width="2" height="2" fill="#00ff00"/><rect x="298" y="368" width="2" height="2" fill="#ff0000"/><rect x="297" y="371" width="2" height="2" fill="#0000ff"/><rect x="298" y="374" width="2" height="2" fill="#00ff00"/><rect x="248" y="378" width="2" height="1" fill="#ff0000"/><rect x="250" y="379" width="2" height="2" fill="#000000"/><rect x="252" y="379" width="2" height="1" fill="#0000ff"/><rect x="261" y="379" width="2" height="2" fill="#00ff00"/><rect x="262" y="379" width="2" height="2" fill="#ff0000"/><rect x="261" y="381" width="1" height="1" fill="#ff0000"/><rect x="253" y="383" width="2" height="2" fill="#00ff00"/><rect x="275" y="383" width="2" height="2" fill="#00ff00"/><rect x="282" y="383" width="2" height="1" fill="#00ff00"/><rect x="266" y="385" width="2" height="2" fill="#ff0000"/><rect x="264" y="387" width="2" height="2" fill="#ff0000"/><rect x="256" y="387" width="2" height="1" fill="#00ff00"/><rect x="268" y="389" width="2" height="1" fill="#00ff00"/><rect x="275" y="389" width="2" height="2" fill="#00ff00"/><rect x="288" y="389" width="2" height="2" fill="#00ff00"/><rect x="292" y="387" width="2" height="2" fill="#00ff00"/><rect x="296" y="388" width="1" height="2" fill="#0000ff"/><rect x="256" y="390" width="2" height="2" fill="#000000"/><rect x="244" y="395" width="2" height="1" fill="#ff0000"/><rect x="249" y="394" width="2" height="2" fill="#0000ff"/><rect x="252" y="396" width="2" height="1" fill="#00ff00"/><rect x="274" y="395" width="2" height="2" fill="#ff0000"/><rect x="288" y="396" width="2" height="2" fill="#00ff00"/><rect x="298" y="396" width="2" height="2" fill="#00ff00"/><rect x="254" y="397" width="2" height="2" fill="#ff0000"/><rect x="255" y="398" width="2" height="2" fill="#0000ff"/><rect x="256" y="399" width="2" height="2" fill="#0000ff"/><rect x="264" y="398" width="2" height="2" fill="#ff0000"/><rect x="265" y="399" width="2" height="2" fill="#00ff00"/><rect x="243" y="400" width="2" height="2" fill="#ff0000"/><rect x="247" y="399" width="2" height="2" fill="#00ff00"/><rect x="248" y="401" width="2" height="2" fill="#ff0000"/><rect x="251" y="400" width="2" height="1" fill="#0000ff"/><rect x="263" y="403" width="2" height="2" fill="#0000ff"/><rect x="265" y="403" width="2" height="2" fill="#00ff00"/><rect x="274" y="404" width="2" height="2" fill="#00ff00"/><rect x="290" y="406" width="2" height="1" fill="#000000"/><rect x="296" y="404" width="2" height="2" fill="#ff0000"/><rect x="245" y="405" width="2" height="2" fill="#0000ff"/><rect x="246" y="406" width="2" height="2" fill="#ff0000"/><rect x="266" y="406" width="2" height="2" fill="#00ff00"/><rect x="274" y="408" width="2" height="1" fill="#00ff00"/><rect x="261" y="408" width="2" height="2" fill="#ff0000"/><rect x="242" y="408" width="1" height="2" fill="#00ff00"/><rect x="248" y="410" width="2" height="2" fill="#00ff00"/><rect x="248" y="411" width="2" height="2" fill="#ff0000"/><rect x="267" y="411" width="2" height="2" fill="#00ff00"/><rect x="276" y="411" width="2" height="2" fill="#00ff00"/><rect x="294" y="410" width="2" height="2" fill="#00ff00"/><rect x="326" y="357" width="2" height="2" fill="#00ff00"/><rect x="300" y="362" width="2" height="2" fill="#ff0000"/><rect x="297" y="372" width="2" height="1" fill="#00ff00"/><rect x="313" y="371" width="2" height="2" fill="#00ff00"/><rect x="313" y="386" width="2" height="2" fill="#0000ff"/><rect x="318" y="397" width="2" height="2" fill="#ff0000"/><rect x="312" y="399" width="2" height="2" fill="#00ff00"/><rect x="316" y="401" width="2" height="1" fill="#00ff00"/><rect x="300" y="409" width="2" height="1" fill="#ff0000"/><rect x="308" y="410" width="2" height="2" fill="#00ff00"/><rect x="311" y="411" width="2" height="2" fill="#00ff00"/><rect x="111" y="413" width="2" height="2" fill="#00ff00"/><rect x="118" y="413" width="2" height="3" fill="#00ff00"/><rect x="122" y="411" width="2" height="2" fill="#00ff00"/><rect x="123" y="413" width="2" height="2" fill="#00ff00"/><rect x="125" y="414" width="1" height="1" fill="#ff0000"/><rect x="81" y="417" width="2" height="1" fill="#00ff00"/><rect x="108" y="417" width="2" height="2" fill="#000000"/><rect x="124" y="418" width="2" height="2" fill="#00ff00"/><rect x="90" y="421" width="2" height="2" fill="#0000ff"/><rect x="126" y="421" width="2" height="2" fill="#00ff00"/><rect x="116" y="423" width="2" height="2" fill="#00ff00"/><rect x="127" y="425" width="2" height="2" fill="#0000ff"/><rect x="79" y="429" width="2" height="2" fill="#ff0000"/><rect x="107" y="427" width="1" height="2" fill="#ff0000"/><rect x="110" y="430" width="2" height="1" fill="#0000ff"/><rect x="112" y="433" width="2" height="2" fill="#ff0000"/><rect x="120" y="431" width="2" height="2" fill="#ff0000"/><rect x="116" y="435" width="2" height="2" fill="#0000ff"/><rect x="117" y="435" width="2" height="2" fill="#00ff00"/><rect x="120" y="442" width="2" height="2" fill="#00ff00"/><rect x="122" y="442" width="2" height="2" fill="#0000ff"/><rect x="124" y="443" width="2" height="2" fill="#0000ff"/><rect x="124" y="444" width="2" height="2" fill="#00ff00"/><rect x="101" y="445" width="2" height="2" fill="#00ff00"/><rect x="138" y="413" width="2" height="2" fill="#ff0000"/><rect x="139" y="416" width="2" height="1" fill="#00ff00"/><rect x="143" y="416" width="2" height="2" fill="#00ff00"/><rect x="147" y="415" width="1" height="2" fill="#000000"/><rect x="160" y="415" width="2" height="2" fill="#ff0000"/><rect x="163" y="417" width="2" height="3" fill="#00ff00"/><rect x="166" y="415" width="2" height="2" fill="#00ff00"/><rect x="175" y="416" width="2" height="2" fill="#0000ff"/><rect x="179" y="416" width="2" height="2" fill="#ff0000"/><rect x="173" y="413" width="2" height="2" fill="#00ff00"/><rect x="165" y="420" width="2" height="1" fill="#0000ff"/><rect x="131" y="420" width="2" height="2" fill="#00ff00"/><rect x="130" y="422" width="2" height="2" fill="#00ff00"/><rect x="140" y="421" width="2" height="2" fill="#00ff00"/><rect x="143" y="421" width="2" height="2" fill="#ff0000"/><rect x="154" y="421" width="2" height="1" fill="#0000ff"/><rect x="154" y="422" width="2" height="2" fill="#00ff00"/><rect x="159" y="423" width="2" height="2" fill="#ff0000"/><rect x="161" y="423" width="2" height="2" fill="#0000ff"/><rect x="162" y="424" width="2" height="2" fill="#0000ff"/><rect x="183" y="423" width="3" height="2" fill="#00ff00"/><rect x="131" y="426" width="1" height="2" fill="#00ff00"/><rect x="138" y="425" width="2" height="2" fill="#0000ff"/><rect x="142" y="425" width="2" height="1" fill="#0000ff"/><rect x="147" y="428" width="2" height="1" fill="#0000ff"/><rect x="159" y="426" width="1" height="2" fill="#00ff00"/><rect x="173" y="426" width="2" height="2" fill="#ff0000"/><rect x="177" y="425" width="2" height="1" fill="#00ff00"/><rect x="184" y="428" width="2" height="1" fill="#ff0000"/><rect x="180" y="433" width="1" height="2" fill="#00ff00"/><rect x="169" y="437" width="2" height="2" fill="#00ff00"/><rect x="170" y="437" width="2" height="1" fill="#00ff00"/><rect x="142" y="439" width="2" height="1" fill="#ff0000"/><rect x="163" y="439" width="2" height="2" fill="#0000ff"/><rect x="179" y="443" width="2" height="2" fill="#00ff00"/><rect x="162" y="444" width="2" height="1" fill="#00ff00"/><rect x="157" y="447" width="2" height="2" fill="#ff0000"/><rect x="172" y="446" width="2" height="2" fill="#0000ff"/><rect x="175" y="449" width="2" height="2" fill="#00ff00"/><rect x="132" y="449" width="2" height="1" fill="#00ff00"/><rect x="148" y="451" width="2" height="1" fill="#00ff00"/><rect x="158" y="453" width="2" height="1" fill="#00ff00"/><rect x="172" y="452" width="2" height="2" fill="#ff0000"/><rect x="182" y="452" width="2" height="2" fill="#00ff00"/><rect x="184" y="452" width="2" height="2" fill="#000000"/><rect x="132" y="457" width="2" height="1" fill="#ff0000"/><rect x="163" y="456" width="2" height="2" fill="#00ff00"/><rect x="166" y="456" width="2" height="2" fill="#ff0000"/><rect x="166" y="459" width="2" height="1" fill="#00ff00"/><rect x="163" y="468" width="2" height="2" fill="#ff0000"/><rect x="190" y="413" width="2" height="2" fill="#0000ff"/><rect x="197" y="414" width="2" height="2" fill="#ff0000"/><rect x="197" y="417" width="2" height="2" fill="#0000ff"/><rect x="199" y="418" width="1" height="1" fill="#ff0000"/><rect x="200" y="416" width="2" height="1" fill="#00ff00"/><rect x="204" y="417" width="2" height="1" fill="#ff0000"/><rect x="203" y="418" width="2" height="2" fill="#00ff00"/><rect x="207" y="416" width="2" height="2" fill="#00ff00"/><rect x="210" y="414" width="1" height="2" fill="#ff0000"/><rect x="212" y="412" width="2" height="2" fill="#0000ff"/><rect x="214" y="413" width="2" height="2" fill="#00ff00"/><rect x="215" y="414" width="2" height="2" fill="#00ff00"/><rect x="227" y="411" width="2" height="2" fill="#00ff00"/><rect x="228" y="413" width="2" height="2" fill="#ff0000"/><rect x="231" y="412" width="2" height="2" fill="#00ff00"/><rect x="236" y="413" width="2" height="1" fill="#ff0000"/><rect x="230" y="415" width="2" height="2" fill="#00ff00"/><rect x="233" y="416" width="2" height="2" fill="#ff0000"/><rect x="229" y="417" width="2" height="2" fill="#ff0000"/><rect x="221" y="418" width="2" height="2" fill="#0000ff"/><rect x="217" y="421" width="2" height="2" fill="#ff0000"/><rect x="219" y="420" width="2" height="3" fill="#00ff00"/><rect x="215" y="423" width="2" height="2" fill="#ff0000"/><rect x="228" y="420" width="2" height="2" fill="#ff0000"/><rect x="230" y="420" width="2" height="2" fill="#000000"/><rect x="235" y="420" width="2" height="2" fill="#00ff00"/><rect x="225" y="423" width="2" height="2" fill="#ff0000"/><rect x="200" y="428" width="2" height="2" fill="#ff0000"/><rect x="222" y="426" width="2" height="1" fill="#00ff00"/><rect x="222" y="429" width="2" height="2" fill="#ff0000"/><rect x="226" y="430" width="2" height="2" fill="#00ff00"/><rect x="233" y="427" width="2" height="2" fill="#ff0000"/><rect x="235" y="427" width="2" height="1" fill="#ff0000"/><rect x="242" y="425" width="1" height="2" fill="#ff0000"/><rect x="206" y="429" width="2" height="2" fill="#ff0000"/><rect x="204" y="431" width="2" height="2" fill="#ff0000"/><rect x="209" y="431" width="2" height="2" fill="#ff0000"/><rect x="188" y="432" width="2" height="2" fill="#ff0000"/><rect x="219" y="432" width="1" height="2" fill="#ff0000"/><rect x="188" y="435" width="2" height="2" fill="#ff0000"/><rect x="188" y="437" width="1" height="2" fill="#ff0000"/><rect x="189" y="438" width="2" height="2" fill="#00ff00"/><rect x="218" y="435" width="1" height="2" fill="#0000ff"/><rect x="229" y="434" width="2" height="2" fill="#000000"/><rect x="230" y="434" width="2" height="2" fill="#ff0000"/><rect x="236" y="434" width="2" height="1" fill="#000000"/><rect x="240" y="434" width="2" height="2" fill="#00ff00"/><rect x="239" y="436" width="2" height="1" fill="#ff0000"/><rect x="224" y="437" width="2" height="1" fill="#000000"/><rect x="214" y="437" width="2" height="2" fill="#00ff00"/><rect x="216" y="437" width="1" height="2" fill="#ff0000"/><rect x="213" y="439" width="2" height="2" fill="#ff0000"/><rect x="232" y="437" width="2" height="2" fill="#0000ff"/><rect x="241" y="438" width="2" height="2" fill="#0000ff"/><rect x="197" y="440" width="2" height="1" fill="#00ff00"/><rect x="222" y="440" width="2" height="2" fill="#0000ff"/><rect x="231" y="440" width="2" height="1" fill="#ff0000"/><rect x="189" y="442" width="2" height="2" fill="#ff0000"/><rect x="199" y="443" width="2" height="2" fill="#0000ff"/><rect x="201" y="445" width="2" height="2" fill="#00ff00"/><rect x="211" y="445" width="2" height="2" fill="#0000ff"/><rect x="219" y="442" width="2" height="2" fill="#00ff00"/><rect x="219" y="444" width="2" height="2" fill="#00ff00"/><rect x="219" y="446" width="2" height="2" fill="#00ff00"/><rect x="217" y="446" width="2" height="1" fill="#0000ff"/><rect x="222" y="443" width="2" height="1" fill="#ff0000"/><rect x="223" y="445" width="2" height="1" fill="#000000"/><rect x="227" y="446" width="2" height="2" fill="#ff0000"/><rect x="229" y="444" width="3" height="2" fill="#00ff00"/><rect x="241" y="444" width="2" height="2" fill="#00ff00"/><rect x="217" y="448" width="2" height="2" fill="#000000"/><rect x="235" y="448" width="2" height="2" fill="#ff0000"/><rect x="238" y="447" width="2" height="2" fill="#00ff00"/><rect x="210" y="449" width="2" height="2" fill="#ff0000"/><rect x="189" y="449" width="2" height="2" fill="#00ff00"/><rect x="214" y="451" width="2" height="2" fill="#00ff00"/><rect x="231" y="451" width="2" height="2" fill="#0000ff"/><rect x="185" y="452" width="2" height="2" fill="#00ff00"/><rect x="198" y="452" width="2" height="2" fill="#000000"/><rect x="192" y="453" width="2" height="2" fill="#ff0000"/><rect x="217" y="455" width="2" height="2" fill="#00ff00"/><rect x="238" y="455" width="2" height="2" fill="#00ff00"/><rect x="239" y="454" width="2" height="2" fill="#00ff00"/><rect x="208" y="459" width="2" height="2" fill="#ff0000"/><rect x="216" y="459" width="2" height="2" fill="#00ff00"/><rect x="193" y="459" width="2" height="2" fill="#000000"/><rect x="195" y="458" width="2" height="2" fill="#ff0000"/><rect x="195" y="459" width="2" height="2" fill="#ff0000"/><rect x="196" y="460" width="2" height="2" fill="#0000ff"/><rect x="229" y="461" width="2" height="1" fill="#000000"/><rect x="232" y="461" width="2" height="1" fill="#00ff00"/><rect x="195" y="464" width="2" height="2" fill="#0000ff"/><rect x="201" y="464" width="2" height="2" fill="#ff0000"/><rect x="215" y="463" width="2" height="2" fill="#ff0000"/><rect x="218" y="463" width="2" height="2" fill="#00ff00"/><rect x="234" y="467" width="2" height="2" fill="#00ff00"/><rect x="227" y="468" width="2" height="2" fill="#000000"/><rect x="232" y="468" width="2" height="2" fill="#ff0000"/><rect x="251" y="413" width="2" height="2" fill="#00ff00"/><rect x="253" y="415" width="2" height="2" fill="#00ff00"/><rect x="256" y="413" width="2" height="2" fill="#00ff00"/><rect x="252" y="418" width="2" height="1" fill="#000000"/><rect x="265" y="415" width="2" height="1" fill="#ff0000"/><rect x="264" y="417" width="1" height="2" fill="#0000ff"/><rect x="271" y="416" width="2" height="2" fill="#ff0000"/><rect x="268" y="420" width="2" height="1" fill="#ff0000"/><rect x="267" y="422" width="2" height="2" fill="#ff0000"/><rect x="269" y="423" width="2" height="2" fill="#ff0000"/><rect x="269" y="425" width="2" height="2" fill="#ff0000"/><rect x="252" y="423" width="2" height="1" fill="#0000ff"/><rect x="254" y="422" width="2" height="2" fill="#0000ff"/><rect x="255" y="422" width="1" height="2" fill="#00ff00"/><rect x="261" y="424" width="2" height="1" fill="#00ff00"/><rect x="261" y="427" width="2" height="1" fill="#000000"/><rect x="261" y="428" width="2" height="2" fill="#00ff00"/><rect x="243" y="427" width="2" height="2" fill="#00ff00"/><rect x="248" y="427" width="2" height="2" fill="#ff0000"/><rect x="244" y="430" width="2" height="1" fill="#ff0000"/><rect x="263" y="432" width="2" height="2" fill="#00ff00"/><rect x="277" y="424" width="2" height="2" fill="#0000ff"/><rect x="280" y="427" width="2" height="1" fill="#ff0000"/><rect x="281" y="429" width="1" height="2" fill="#ff0000"/><rect x="284" y="424" width="2" height="1" fill="#000000"/><rect x="286" y="421" width="2" height="2" fill="#000000"/><rect x="289" y="418" width="2" height="2" fill="#ff0000"/><rect x="292" y="417" width="2" height="2" fill="#00ff00"/><rect x="291" y="421" width="2" height="2" fill="#ff0000"/><rect x="288" y="425" width="2" height="2" fill="#0000ff"/><rect x="295" y="423" width="2" height="2" fill="#00ff00"/><rect x="295" y="429" width="2" height="2" fill="#00ff00"/><rect x="288" y="432" width="2" height="2" fill="#0000ff"/><rect x="281" y="434" width="2" height="2" fill="#0000ff"/><rect x="282" y="436" width="2" height="2" fill="#ff0000"/><rect x="282" y="436" width="1" height="2" fill="#00ff00"/><rect x="286" y="438" width="2" height="2" fill="#00ff00"/><rect x="289" y="438" width="2" height="2" fill="#ff0000"/><rect x="298" y="439" width="2" height="1" fill="#ff0000"/><rect x="244" y="435" width="2" height="2" fill="#ff0000"/><rect x="246" y="435" width="3" height="2" fill="#00ff00"/><rect x="244" y="439" width="2" height="2" fill="#ff0000"/><rect x="246" y="440" width="2" height="1" fill="#ff0000"/><rect x="251" y="436" width="2" height="2" fill="#ff0000"/><rect x="252" y="437" width="2" height="2" fill="#000000"/><rect x="260" y="440" width="2" height="2" fill="#ff0000"/><rect x="253" y="442" width="2" height="2" fill="#ff0000"/><rect x="253" y="444" width="2" height="2" fill="#000000"/><rect x="257" y="443" width="2" height="2" fill="#ff0000"/><rect x="249" y="445" width="2" height="1" fill="#ff0000"/><rect x="251" y="446" width="2" height="2" fill="#000000"/><rect x="251" y="447" width="2" height="2" fill="#ff0000"/><rect x="256" y="447" width="2" height="1" fill="#0000ff"/><rect x="265" y="443" width="2" height="2" fill="#ff0000"/><rect x="266" y="443" width="2" height="2" fill="#0000ff"/><rect x="267" y="444" width="2" height="2" fill="#00ff00"/><rect x="279" y="441" width="2" height="2" fill="#ff0000"/><rect x="282" y="442" width="2" height="2" fill="#ff0000"/><rect x="281" y="444" width="2" height="2" fill="#00ff00"/><rect x="281" y="448" width="2" height="2" fill="#00ff00"/><rect x="244" y="447" width="2" height="2" fill="#0000ff"/><rect x="261" y="448" width="2" height="2" fill="#ff0000"/><rect x="258" y="450" width="2" height="2" fill="#0000ff"/><rect x="258" y="450" width="1" height="1" fill="#ff0000"/><rect x="263" y="451" width="2" height="1" fill="#0000ff"/><rect x="252" y="451" width="2" height="2" fill="#ff0000"/><rect x="256" y="453" width="2" height="2" fill="#0000ff"/><rect x="272" y="452" width="2" height="2" fill="#0000ff"/><rect x="298" y="446" width="2" height="2" fill="#00ff00"/><rect x="281" y="454" width="2" height="2" fill="#ff0000"/><rect x="265" y="458" width="2" height="1" fill="#ff0000"/><rect x="283" y="458" width="2" height="2" fill="#ff0000"/><rect x="276" y="459" width="2" height="1" fill="#ff0000"/><rect x="278" y="459" width="2" height="1" fill="#00ff00"/><rect x="278" y="462" width="2" height="1" fill="#ff0000"/><rect x="252" y="463" width="2" height="2" fill="#ff0000"/><rect x="282" y="465" width="2" height="2" fill="#00ff00"/><rect x="245" y="466" width="2" height="2" fill="#00ff00"/><rect x="265" y="467" width="2" height="2" fill="#00ff00"/><rect x="273" y="468" width="2" height="2" fill="#00ff00"/><rect x="294" y="468" width="2" height="2" fill="#ff0000"/><rect x="296" y="467" width="2" height="2" fill="#ff0000"/><rect x="312" y="413" width="2" height="2" fill="#0000ff"/><rect x="319" y="413" width="2" height="2" fill="#ff0000"/><rect x="328" y="414" width="2" height="2" fill="#ff0000"/><rect x="300" y="420" width="2" height="2" fill="#000000"/><rect x="311" y="419" width="2" height="2" fill="#0000ff"/><rect x="308" y="426" width="2" height="2" fill="#0000ff"/><rect x="300" y="431" width="2" height="2" fill="#0000ff"/><rect x="314" y="430" width="2" height="1" fill="#ff0000"/><rect x="309" y="442" width="2" height="2" fill="#00ff00"/><rect x="304" y="444" width="2" height="2" fill="#ff0000"/><rect x="318" y="444" width="2" height="2" fill="#00ff00"/><rect x="319" y="448" width="2" height="2" fill="#000000"/><rect x="314" y="457" width="2" height="2" fill="#ff0000"/><rect x="300" y="461" width="1" height="2" fill="#0000ff"/><rect x="315" y="462" width="2" height="1" fill="#00ff00"/><rect x="318" y="461" width="2" height="1" fill="#0000ff"/><rect x="320" y="462" width="2" height="2" fill="#00ff00"/><rect x="312" y="465" width="2" height="2" fill="#0000ff"/><rect x="313" y="468" width="2" height="2" fill="#00ff00"/><rect x="107" y="472" width="2" height="2" fill="#0000ff"/><rect x="100" y="482" width="2" height="2" fill="#0000ff"/><rect x="121" y="494" width="1" height="2" fill="#00ff00"/><rect x="152" y="475" width="2" height="1" fill="#0000ff"/><rect x="169" y="473" width="1" height="2" fill="#00ff00"/><rect x="175" y="472" width="2" height="2" fill="#0000ff"/><rect x="171" y="476" width="2" height="1" fill="#0000ff"/><rect x="176" y="476" width="1" height="2" fill="#00ff00"/><rect x="176" y="478" width="2" height="2" fill="#00ff00"/><rect x="183" y="473" width="2" height="2" fill="#0000ff"/><rect x="184" y="476" width="2" height="2" fill="#000000"/><rect x="163" y="481" width="2" height="2" fill="#00ff00"/><rect x="168" y="480" width="2" height="2" fill="#00ff00"/><rect x="140" y="486" width="2" height="2" fill="#0000ff"/><rect x="175" y="493" width="2" height="2" fill="#ff0000"/><rect x="155" y="499" width="2" height="2" fill="#000000"/><rect x="182" y="502" width="2" height="2" fill="#0000ff"/><rect x="166" y="524" width="2" height="2" fill="#0000ff"/><rect x="190" y="470" width="2" height="1" fill="#ff0000"/><rect x="201" y="471" width="2" height="2" fill="#ff0000"/><rect x="221" y="470" width="2" height="1" fill="#000000"/><rect x="235" y="471" width="2" height="2" fill="#00ff00"/><rect x="241" y="470" width="2" height="2" fill="#ff0000"/><rect x="192" y="473" width="2" height="2" fill="#00ff00"/><rect x="207" y="474" width="2" height="2" fill="#0000ff"/><rect x="210" y="474" width="2" height="3" fill="#0000ff"/><rect x="228" y="473" width="2" height="1" fill="#ff0000"/><rect x="231" y="476" width="2" height="2" fill="#0000ff"/><rect x="241" y="474" width="2" height="2" fill="#ff0000"/><rect x="201" y="481" width="2" height="1" fill="#ff0000"/><rect x="227" y="478" width="2" height="2" fill="#00ff00"/><rect x="227" y="480" width="2" height="2" fill="#000000"/><rect x="229" y="480" width="2" height="2" fill="#ff0000"/><rect x="224" y="480" width="2" height="2" fill="#0000ff"/><rect x="235" y="479" width="2" height="2" fill="#0000ff"/><rect x="211" y="490" width="2" height="2" fill="#0000ff"/><rect x="208" y="491" width="2" height="2" fill="#ff0000"/><rect x="215" y="491" width="2" height="2" fill="#ff0000"/><rect x="219" y="492" width="2" height="2" fill="#00ff00"/><rect x="219" y="494" width="2" height="1" fill="#ff0000"/><rect x="223" y="491" width="2" height="2" fill="#000000"/><rect x="196" y="493" width="2" height="2" fill="#0000ff"/><rect x="189" y="495" width="2" height="1" fill="#0000ff"/><rect x="203" y="497" width="2" height="2" fill="#00ff00"/><rect x="221" y="497" width="2" height="2" fill="#00ff00"/><rect x="228" y="496" width="2" height="2" fill="#00ff00"/><rect x="230" y="496" width="2" height="2" fill="#0000ff"/><rect x="232" y="496" width="1" height="2" fill="#00ff00"/><rect x="234" y="499" width="2" height="1" fill="#ff0000"/><rect x="230" y="500" width="2" height="1" fill="#ff0000"/><rect x="232" y="499" width="1" height="2" fill="#00ff00"/><rect x="223" y="500" width="2" height="2" fill="#00ff00"/><rect x="218" y="501" width="2" height="2" fill="#0000ff"/><rect x="209" y="502" width="2" height="2" fill="#0000ff"/><rect x="235" y="501" width="2" height="2" fill="#ff0000"/><rect x="239" y="501" width="2" height="2" fill="#00ff00"/><rect x="241" y="499" width="2" height="2" fill="#0000ff"/><rect x="241" y="502" width="2" height="2" fill="#000000"/><rect x="233" y="504" width="2" height="2" fill="#0000ff"/><rect x="206" y="507" width="2" height="2" fill="#0000ff"/><rect x="200" y="510" width="2" height="2" fill="#ff0000"/><rect x="231" y="509" width="2" height="2" fill="#0000ff"/><rect x="239" y="511" width="2" height="2" fill="#0000ff"/><rect x="240" y="510" width="2" height="2" fill="#0000ff"/><rect x="219" y="512" width="2" height="2" fill="#ff0000"/><rect x="225" y="514" width="2" height="2" fill="#ff0000"/><rect x="229" y="516" width="2" height="1" fill="#00ff00"/><rect x="206" y="516" width="2" height="2" fill="#00ff00"/><rect x="214" y="518" width="2" height="2" fill="#ff0000"/><rect x="225" y="520" width="2" height="1" fill="#0000ff"/><rect x="208" y="522" width="2" height="3" fill="#0000ff"/><rect x="229" y="522" width="2" height="2" fill="#00ff00"/><rect x="228" y="523" width="1" height="1" fill="#000000"/><rect x="237" y="524" width="2" height="1" fill="#ff0000"/><rect x="205" y="525" width="2" height="2" fill="#00ff00"/><rect x="214" y="525" width="2" height="2" fill="#0000ff"/><rect x="269" y="470" width="2" height="2" fill="#000000"/><rect x="273" y="470" width="2" height="1" fill="#ff0000"/><rect x="274" y="472" width="2" height="2" fill="#00ff00"/><rect x="265" y="472" width="2" height="1" fill="#0000ff"/><rect x="263" y="475" width="2" height="2" fill="#ff0000"/><rect x="265" y="477" width="2" height="1" fill="#0000ff"/><rect x="264" y="478" width="2" height="1" fill="#00ff00"/><rect x="279" y="475" width="2" height="2" fill="#00ff00"/><rect x="282" y="478" width="2" height="1" fill="#00ff00"/><rect x="286" y="476" width="2" height="2" fill="#ff0000"/><rect x="288" y="474" width="1" height="2" fill="#00ff00"/><rect x="248" y="479" width="2" height="2" fill="#0000ff"/><rect x="259" y="483" width="2" height="1" fill="#00ff00"/><rect x="276" y="483" width="2" height="2" fill="#ff0000"/><rect x="282" y="483" width="2" height="2" fill="#00ff00"/><rect x="282" y="486" width="2" height="2" fill="#0000ff"/><rect x="285" y="487" width="2" height="2" fill="#00ff00"/><rect x="286" y="489" width="2" height="2" fill="#00ff00"/><rect x="274" y="487" width="1" height="2" fill="#00ff00"/><rect x="274" y="490" width="2" height="2" fill="#ff0000"/><rect x="295" y="482" width="2" height="2" fill="#0000ff"/><rect x="241" y="491" width="2" height="2" fill="#0000ff"/><rect x="251" y="492" width="2" height="2" fill="#ff0000"/><rect x="253" y="493" width="2" height="2" fill="#000000"/><rect x="260" y="492" width="2" height="2" fill="#0000ff"/><rect x="244" y="494" width="2" height="2" fill="#0000ff"/><rect x="245" y="496" width="2" height="1" fill="#ff0000"/><rect x="247" y="495" width="2" height="1" fill="#ff0000"/><rect x="279" y="495" width="2" height="2" fill="#0000ff"/><rect x="282" y="496" width="2" height="2" fill="#ff0000"/><rect x="281" y="498" width="2" height="2" fill="#000000"/><rect x="286" y="496" width="2" height="1" fill="#ff0000"/><rect x="255" y="498" width="2" height="2" fill="#000000"/><rect x="257" y="499" width="2" height="2" fill="#00ff00"/><rect x="271" y="499" width="2" height="2" fill="#000000"/><rect x="293" y="499" width="2" height="2" fill="#0000ff"/><rect x="297" y="495" width="1" height="2" fill="#0000ff"/><rect x="247" y="501" width="2" height="2" fill="#00ff00"/><rect x="248" y="501" width="2" height="2" fill="#0000ff"/><rect x="247" y="503" width="2" height="1" fill="#ff0000"/><rect x="253" y="502" width="1" height="2" fill="#00ff00"/><rect x="272" y="503" width="2" height="2" fill="#00ff00"/><rect x="276" y="502" width="2" height="2" fill="#000000"/><rect x="292" y="503" width="2" height="2" fill="#00ff00"/><rect x="294" y="505" width="2" height="1" fill="#0000ff"/><rect x="298" y="507" width="2" height="2" fill="#0000ff"/><rect x="252" y="507" width="2" height="2" fill="#00ff00"/><rect x="255" y="507" width="2" height="2" fill="#0000ff"/><rect x="257" y="509" width="2" height="2" fill="#ff0000"/><rect x="272" y="509" width="2" height="2" fill="#ff0000"/><rect x="292" y="513" width="2" height="1" fill="#00ff00"/><rect x="257" y="514" width="2" height="2" fill="#ff0000"/><rect x="267" y="514" width="2" height="2" fill="#ff0000"/><rect x="283" y="514" width="2" height="2" fill="#00ff00"/><rect x="295" y="515" width="2" height="2" fill="#ff0000"/><rect x="297" y="517" width="2" height="2" fill="#00ff00"/><rect x="244" y="516" width="2" height="1" fill="#0000ff"/><rect x="246" y="517" width="2" height="2" fill="#00ff00"/><rect x="288" y="517" width="2" height="2" fill="#00ff00"/><rect x="293" y="518" width="2" height="1" fill="#00ff00"/><rect x="288" y="519" width="2" height="2" fill="#ff0000"/><rect x="252" y="520" width="2" height="2" fill="#00ff00"/><rect x="254" y="521" width="2" height="1" fill="#ff0000"/><rect x="267" y="520" width="2" height="2" fill="#0000ff"/><rect x="269" y="520" width="1" height="2" fill="#ff0000"/><rect x="284" y="520" width="2" height="2" fill="#00ff00"/><rect x="290" y="522" width="2" height="2" fill="#00ff00"/><rect x="244" y="523" width="2" height="2" fill="#ff0000"/><rect x="255" y="524" width="2" height="1" fill="#ff0000"/><rect x="280" y="523" width="2" height="2" fill="#ff0000"/><rect x="282" y="523" width="2" height="2" fill="#0000ff"/><rect x="249" y="525" width="2" height="2" fill="#00ff00"/><rect x="279" y="525" width="2" height="2" fill="#ff0000"/><rect x="280" y="525" width="2" height="2" fill="#000000"/><rect x="286" y="524" width="2" height="2" fill="#000000"/><rect x="298" y="523" width="2" height="2" fill="#ff0000"/><rect x="327" y="471" width="2" height="2" fill="#0000ff"/><rect x="341" y="471" width="2" height="2" fill="#ff0000"/><rect x="330" y="474" width="2" height="2" fill="#00ff00"/><rect x="324" y="477" width="2" height="2" fill="#00ff00"/><rect x="306" y="486" width="2" height="2" fill="#00ff00"/><rect x="301" y="488" width="2" height="2" fill="#00ff00"/><rect x="316" y="486" width="2" height="2" fill="#0000ff"/><rect x="330" y="486" width="2" height="2" fill="#ff0000"/><rect x="336" y="489" width="2" height="1" fill="#ff0000"/><rect x="313" y="493" width="2" height="2" fill="#00ff00"/><rect x="321" y="497" width="2" height="2" fill="#00ff00"/><rect x="326" y="497" width="2" height="2" fill="#00ff00"/><rect x="304" y="498" width="2" height="2" fill="#ff0000"/><rect x="308" y="502" width="2" height="2" fill="#ff0000"/><rect x="313" y="506" width="2" height="2" fill="#00ff00"/><rect x="310" y="512" width="2" height="2" fill="#00ff00"/><rect x="317" y="523" width="2" height="1" fill="#ff0000"/><rect x="300" y="525" width="2" height="2" fill="#0000ff"/><rect x="307" y="525" width="2" height="2" fill="#ff0000"/><rect x="124" y="534" width="2" height="2" fill="#00ff00"/><rect x="181" y="542" width="2" height="1" fill="#00ff00"/><rect x="167" y="545" width="2" height="2" fill="#00ff00"/><rect x="166" y="555" width="2" height="2" fill="#0000ff"/><rect x="223" y="527" width="2" height="2" fill="#00ff00"/><rect x="236" y="528" width="2" height="2" fill="#ff0000"/><rect x="238" y="529" width="2" height="2" fill="#000000"/><rect x="208" y="530" width="2" height="1" fill="#00ff00"/><rect x="206" y="533" width="2" height="2" fill="#ff0000"/><rect x="220" y="536" width="2" height="2" fill="#ff0000"/><rect x="227" y="537" width="2" height="2" fill="#0000ff"/><rect x="232" y="535" width="2" height="2" fill="#ff0000"/><rect x="221" y="541" width="2" height="2" fill="#ff0000"/><rect x="231" y="543" width="2" height="2" fill="#00ff00"/><rect x="241" y="546" width="2" height="1" fill="#00ff00"/><rect x="240" y="548" width="2" height="2" fill="#00ff00"/><rect x="242" y="551" width="1" height="2" fill="#00ff00"/><rect x="197" y="547" width="2" height="2" fill="#0000ff"/><rect x="198" y="550" width="2" height="2" fill="#0000ff"/><rect x="223" y="550" width="2" height="2" fill="#0000ff"/><rect x="237" y="553" width="2" height="1" fill="#0000ff"/><rect x="238" y="556" width="2" height="2" fill="#0000ff"/><rect x="237" y="558" width="2" height="2" fill="#00ff00"/><rect x="222" y="558" width="2" height="2" fill="#0000ff"/><rect x="230" y="560" width="2" height="2" fill="#ff0000"/><rect x="226" y="562" width="2" height="2" fill="#0000ff"/><rect x="233" y="563" width="2" height="2" fill="#00ff00"/><rect x="225" y="565" width="2" height="2" fill="#00ff00"/><rect x="240" y="565" width="2" height="2" fill="#00ff00"/><rect x="202" y="566" width="2" height="2" fill="#0000ff"/><rect x="236" y="572" width="2" height="2" fill="#0000ff"/><rect x="231" y="575" width="2" height="2" fill="#ff0000"/><rect x="245" y="527" width="2" height="2" fill="#0000ff"/><rect x="246" y="528" width="2" height="2" fill="#0000ff"/><rect x="262" y="530" width="1" height="1" fill="#ff0000"/><rect x="263" y="529" width="2" height="2" fill="#00ff00"/><rect x="262" y="533" width="2" height="1" fill="#00ff00"/><rect x="263" y="536" width="2" height="2" fill="#00ff00"/><rect x="262" y="539" width="2" height="1" fill="#00ff00"/><rect x="274" y="529" width="2" height="2" fill="#ff0000"/><rect x="247" y="534" width="2" height="2" fill="#00ff00"/><rect x="249" y="536" width="2" height="2" fill="#ff0000"/><rect x="258" y="535" width="2" height="2" fill="#ff0000"/><rect x="256" y="538" width="2" height="2" fill="#00ff00"/><rect x="269" y="534" width="2" height="2" fill="#00ff00"/><rect x="283" y="537" width="2" height="2" fill="#0000ff"/><rect x="290" y="535" width="2" height="2" fill="#00ff00"/><rect x="294" y="537" width="2" height="2" fill="#ff0000"/><rect x="298" y="530" width="2" height="2" fill="#00ff00"/><rect x="276" y="543" width="2" height="2" fill="#0000ff"/><rect x="278" y="542" width="2" height="2" fill="#00ff00"/><rect x="282" y="543" width="2" height="2" fill="#00ff00"/><rect x="288" y="542" width="2" height="2" fill="#00ff00"/><rect x="288" y="545" width="2" height="2" fill="#ff0000"/><rect x="298" y="545" width="2" height="2" fill="#00ff00"/><rect x="249" y="546" width="2" height="2" fill="#ff0000"/><rect x="252" y="548" width="2" height="2" fill="#ff0000"/><rect x="248" y="550" width="2" height="2" fill="#0000ff"/><rect x="262" y="551" width="2" height="2" fill="#0000ff"/><rect x="269" y="551" width="2" height="2" fill="#0000ff"/><rect x="272" y="550" width="2" height="1" fill="#00ff00"/><rect x="279" y="548" width="2" height="2" fill="#ff0000"/><rect x="277" y="551" width="2" height="1" fill="#ff0000"/><rect x="268" y="554" width="2" height="1" fill="#0000ff"/><rect x="256" y="554" width="2" height="2" fill="#000000"/><rect x="282" y="553" width="2" height="1" fill="#00ff00"/><rect x="284" y="553" width="2" height="2" fill="#00ff00"/><rect x="285" y="556" width="2" height="2" fill="#0000ff"/><rect x="296" y="550" width="1" height="2" fill="#0000ff"/><rect x="263" y="559" width="2" height="2" fill="#0000ff"/><rect x="269" y="560" width="2" height="2" fill="#0000ff"/><rect x="272" y="560" width="2" height="1" fill="#ff0000"/><rect x="255" y="562" width="2" height="2" fill="#00ff00"/><rect x="250" y="564" width="2" height="2" fill="#ff0000"/><rect x="285" y="563" width="2" height="2" fill="#ff0000"/><rect x="283" y="564" width="2" height="2" fill="#0000ff"/><rect x="286" y="566" width="2" height="2" fill="#0000ff"/><rect x="246" y="568" width="2" height="2" fill="#00ff00"/><rect x="262" y="566" width="2" height="2" fill="#00ff00"/><rect x="260" y="568" width="2" height="1" fill="#ff0000"/><rect x="275" y="566" width="1" height="2" fill="#0000ff"/><rect x="274" y="568" width="2" height="2" fill="#ff0000"/><rect x="276" y="571" width="2" height="1" fill="#ff0000"/><rect x="278" y="571" width="2" height="2" fill="#0000ff"/><rect x="282" y="572" width="2" height="2" fill="#0000ff"/><rect x="290" y="570" width="2" height="2" fill="#0000ff"/><rect x="291" y="571" width="2" height="2" fill="#0000ff"/><rect x="289" y="573" width="2" height="1" fill="#00ff00"/><rect x="255" y="571" width="1" height="2" fill="#000000"/><rect x="263" y="572" width="2" height="2" fill="#0000ff"/><rect x="268" y="574" width="2" height="1" fill="#0000ff"/><rect x="253" y="575" width="2" height="1" fill="#0000ff"/><rect x="253" y="577" width="2" height="2" fill="#ff0000"/><rect x="290" y="579" width="2" height="2" fill="#00ff00"/><rect x="263" y="581" width="2" height="2" fill="#0000ff"/><rect x="280" y="581" width="2" height="2" fill="#000000"/><rect x="287" y="581" width="2" height="2" fill="#ff0000"/><rect x="301" y="528" width="2" height="2" fill="#ff0000"/><rect x="312" y="529" width="2" height="2" fill="#00ff00"/><rect x="320" y="528" width="2" height="2" fill="#ff0000"/><rect x="304" y="533" width="2" height="2" fill="#000000"/><rect x="301" y="537" width="2" height="2" fill="#0000ff"/><rect x="308" y="537" width="2" height="2" fill="#ff0000"/><rect x="309" y="539" width="2" height="2" fill="#0000ff"/><rect x="313" y="541" width="2" height="2" fill="#0000ff"/><rect x="315" y="541" width="2" height="2" fill="#ff0000"/><rect x="319" y="541" width="2" height="1" fill="#00ff00"/><rect x="303" y="548" width="2" height="1" fill="#00ff00"/><rect x="314" y="547" width="2" height="2" fill="#00ff00"/><rect x="332" y="549" width="2" height="2" fill="#ff0000"/><rect x="312" y="556" width="2" height="1" fill="#ff0000"/><rect x="321" y="558" width="2" height="2" fill="#0000ff"/><rect x="314" y="560" width="2" height="2" fill="#0000ff"/><rect x="312" y="574" width="2" height="1" fill="#ff0000"/><rect x="329" y="576" width="2" height="2" fill="#ff0000"/><rect x="319" y="581" width="2" height="2" fill="#ff0000"/><rect x="329" y="581" width="2" height="2" fill="#ff0000"/><rect x="171" y="591" width="2" height="2" fill="#00ff00"/><rect x="183" y="603" width="2" height="2" fill="#00ff00"/><rect x="170" y="612" width="2" height="2" fill="#0000ff"/><rect x="200" y="583" width="2" height="2" fill="#00ff00"/><rect x="209" y="583" width="2" height="2" fill="#00ff00"/><rect x="223" y="588" width="2" height="2" fill="#ff0000"/><rect x="211" y="590" width="1" height="2" fill="#0000ff"/><rect x="199" y="598" width="2" height="2" fill="#00ff00"/><rect x="241" y="594" width="2" height="2" fill="#00ff00"/><rect x="239" y="600" width="2" height="2" fill="#00ff00"/><rect x="228" y="603" width="2" height="2" fill="#00ff00"/><rect x="234" y="605" width="2" height="2" fill="#00ff00"/><rect x="206" y="609" width="2" height="1" fill="#000000"/><rect x="220" y="613" width="1" height="2" fill="#0000ff"/><rect x="223" y="615" width="2" height="1" fill="#0000ff"/><rect x="211" y="615" width="2" height="2" fill="#ff0000"/><rect x="217" y="615" width="2" height="2" fill="#0000ff"/><rect x="235" y="613" width="2" height="2" fill="#0000ff"/><rect x="222" y="619" width="2" height="2" fill="#00ff00"/><rect x="205" y="622" width="2" height="2" fill="#000000"/><rect x="221" y="622" width="2" height="2" fill="#0000ff"/><rect x="220" y="624" width="2" height="2" fill="#0000ff"/><rect x="236" y="621" width="1" height="2" fill="#000000"/><rect x="241" y="624" width="2" height="2" fill="#00ff00"/><rect x="233" y="632" width="2" height="2" fill="#00ff00"/><rect x="267" y="583" width="2" height="2" fill="#00ff00"/><rect x="276" y="584" width="2" height="2" fill="#0000ff"/><rect x="293" y="584" width="2" height="2" fill="#ff0000"/><rect x="247" y="590" width="2" height="2" fill="#000000"/><rect x="250" y="589" width="2" height="2" fill="#00ff00"/><rect x="272" y="588" width="2" height="2" fill="#0000ff"/><rect x="293" y="589" width="2" height="2" fill="#0000ff"/><rect x="294" y="592" width="2" height="1" fill="#ff0000"/><rect x="257" y="593" width="2" height="1" fill="#ff0000"/><rect x="257" y="595" width="2" height="1" fill="#0000ff"/><rect x="248" y="596" width="2" height="2" fill="#00ff00"/><rect x="278" y="594" width="2" height="2" fill="#000000"/><rect x="285" y="597" width="2" height="2" fill="#ff0000"/><rect x="290" y="598" width="2" height="2" fill="#ff0000"/><rect x="298" y="598" width="2" height="2" fill="#0000ff"/><rect x="253" y="606" width="2" height="1" fill="#ff0000"/><rect x="263" y="607" width="2" height="1" fill="#ff0000"/><rect x="271" y="607" width="2" height="1" fill="#0000ff"/><rect x="289" y="605" width="2" height="2" fill="#00ff00"/><rect x="242" y="607" width="2" height="2" fill="#0000ff"/><rect x="285" y="609" width="2" height="2" fill="#ff0000"/><rect x="289" y="611" width="2" height="2" fill="#0000ff"/><rect x="297" y="611" width="2" height="2" fill="#0000ff"/><rect x="279" y="613" width="2" height="2" fill="#0000ff"/><rect x="294" y="615" width="2" height="1" fill="#00ff00"/><rect x="248" y="616" width="2" height="2" fill="#00ff00"/><rect x="253" y="619" width="2" height="2" fill="#00ff00"/><rect x="249" y="620" width="2" height="2" fill="#0000ff"/><rect x="257" y="622" width="2" height="1" fill="#0000ff"/><rect x="282" y="618" width="2" height="2" fill="#ff0000"/><rect x="286" y="621" width="2" height="2" fill="#000000"/><rect x="284" y="623" width="2" height="2" fill="#00ff00"/><rect x="286" y="625" width="2" height="1" fill="#00ff00"/><rect x="298" y="622" width="2" height="2" fill="#00ff00"/><rect x="268" y="624" width="2" height="2" fill="#ff0000"/><rect x="281" y="632" width="2" height="2" fill="#ff0000"/><rect x="255" y="634" width="2" height="2" fill="#0000ff"/><rect x="277" y="636" width="2" height="1" fill="#0000ff"/><rect x="286" y="636" width="2" height="2" fill="#00ff00"/><rect x="294" y="637" width="2" height="1" fill="#00ff00"/><rect x="297" y="633" width="2" height="2" fill="#00ff00"/><rect x="319" y="583" width="2" height="2" fill="#0000ff"/><rect x="323" y="583" width="2" height="2" fill="#00ff00"/><rect x="323" y="586" width="2" height="2" fill="#00ff00"/><rect x="326" y="588" width="2" height="2" fill="#ff0000"/><rect x="324" y="590" width="2" height="2" fill="#0000ff"/><rect x="304" y="590" width="2" height="2" fill="#00ff00"/><rect x="306" y="590" width="2" height="2" fill="#0000ff"/><rect x="304" y="592" width="2" height="2" fill="#00ff00"/><rect x="313" y="594" width="2" height="2" fill="#00ff00"/><rect x="304" y="604" width="2" height="2" fill="#0000ff"/><rect x="305" y="603" width="2" height="2" fill="#00ff00"/><rect x="321" y="605" width="2" height="2" fill="#0000ff"/><rect x="319" y="607" width="2" height="2" fill="#00ff00"/><rect x="317" y="610" width="2" height="2" fill="#ff0000"/><rect x="306" y="614" width="2" height="1" fill="#ff0000"/><rect x="301" y="618" width="2" height="1" fill="#ff0000"/><rect x="310" y="617" width="2" height="2" fill="#ff0000"/><rect x="328" y="615" width="2" height="2" fill="#ff0000"/><rect x="304" y="621" width="2" height="2" fill="#00ff00"/><rect x="309" y="622" width="2" height="2" fill="#0000ff"/><rect x="310" y="628" width="2" height="2" fill="#ff0000"/><rect x="331" y="628" width="2" height="2" fill="#00ff00"/><rect x="306" y="634" width="2" height="2" fill="#00ff00"/><rect x="307" y="633" width="2" height="2" fill="#00ff00"/><rect x="312" y="634" width="2" height="2" fill="#0000ff"/><rect x="231" y="125" width="1" height="1" fill="#0000ff"/></g><g font-family="Liberation Sans, sans-serif" font-size="13" fill="#0000ff"><text x="71.5" y="652" text-anchor="middle">19</text><text x="127.5" y="652" text-anchor="middle">20</text><text x="184.5" y="652" text-anchor="middle">21</text><text x="241.5" y="652" text-anchor="middle">22</text><text x="297.5" y="652" text-anchor="middle">23</text><text x="354.5" y="652" text-anchor="middle">24</text><text x="411.5" y="652" text-anchor="middle">25</text><text x="468.5" y="652" text-anchor="middle">26</text><text x="524.5" y="652" text-anchor="middle">27</text><text x="581.5" y="652" text-anchor="middle">28</text><text x="53.77" y="76">1</text><text x="42.93" y="132">0.8</text><text x="42.93" y="189">0.6</text><text x="42.93" y="246">0.4</text><text x="42.93" y="302">0.2</text><text x="53.77" y="359">0</text><text y="416"><tspan x="32.30" font-size="17.4" dy="0.6">−</tspan><tspan x="42.93" dy="-0.6">0.2</tspan></text><text y="473"><tspan x="32.30" font-size="17.4" dy="0.6">−</tspan><tspan x="42.93" dy="-0.6">0.4</tspan></text><text y="529"><tspan x="32.30" font-size="17.4" dy="0.6">−</tspan><tspan x="42.93" dy="-0.6">0.6</tspan></text><text y="586"><tspan x="32.30" font-size="17.4" dy="0.6">−</tspan><tspan x="42.93" dy="-0.6">0.8</tspan></text><text y="643"><tspan x="44.30" font-size="17.4" dy="0.6">−</tspan><tspan x="53.77" dy="-0.6">1</tspan></text></g><text x="272" y="676" font-family="Liberation Sans, sans-serif" font-size="22" fill="#0000ff" stroke="#fff" stroke-width="0.6" textLength="109" lengthAdjust="spacingAndGlyphs">magnitude</text><text transform="translate(29 272) rotate(-90)" font-family="Liberation Sans, sans-serif" font-size="22" fill="#0000ff" stroke="#fff" stroke-width="0.6" textLength="200" lengthAdjust="spacingAndGlyphs">aperture correction</text><text x="150" y="46" font-family="Liberation Serif, serif" font-weight="bold" font-size="25.15" fill="#0000ff">HSTPHOT: Field lmc_u32h04</text></svg></body></html>
